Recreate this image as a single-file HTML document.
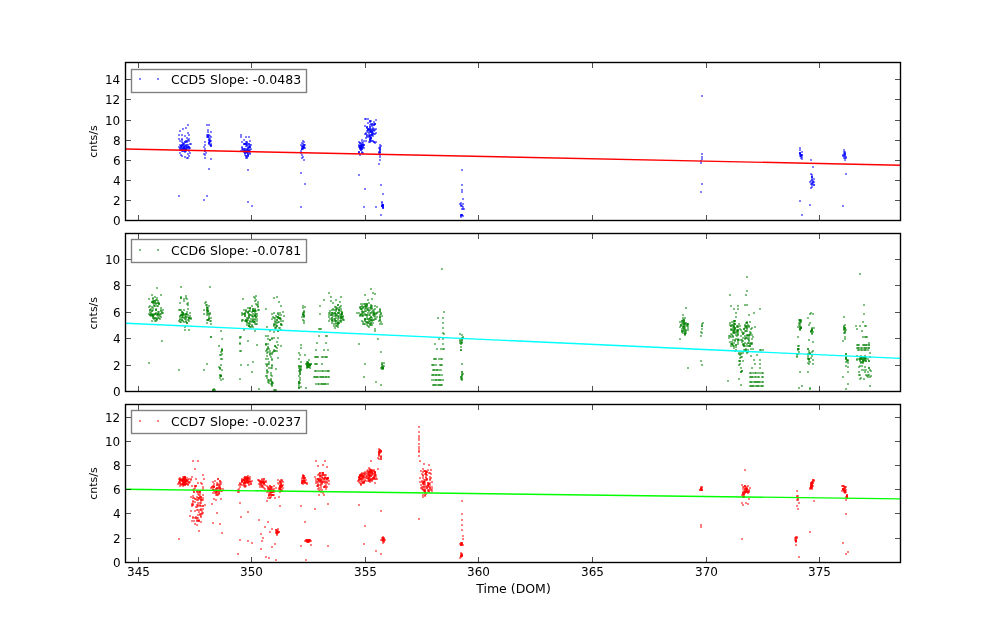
<!DOCTYPE html>
<html lang="en"><head><meta charset="utf-8"><title>CCD count rates</title>
<style>html,body{margin:0;padding:0;background:#fff}svg{display:block;will-change:transform}text{font-family:"DejaVu Sans","Liberation Sans",sans-serif;fill:#000}</style></head><body>
<svg width="1000" height="624" viewBox="0 0 1000 624">
<rect width="1000" height="624" fill="#fff"/>
<g>
<g fill="#0000ff" fill-opacity="0.5" shape-rendering="crispEdges">
<rect x="183" y="147" width="2" height="2"/>
<rect x="181" y="144" width="2" height="2"/>
<rect x="187" y="146" width="2" height="2"/>
<rect x="180" y="148" width="2" height="2"/>
<rect x="179" y="140" width="2" height="2"/>
<rect x="185" y="144" width="2" height="2"/>
<rect x="184" y="148" width="2" height="2"/>
<rect x="185" y="149" width="2" height="2"/>
<rect x="183" y="145" width="2" height="2"/>
<rect x="182" y="142" width="2" height="2"/>
<rect x="181" y="145" width="2" height="2"/>
<rect x="182" y="150" width="2" height="2"/>
<rect x="184" y="141" width="2" height="2"/>
<rect x="180" y="149" width="2" height="2"/>
<rect x="188" y="146" width="2" height="2"/>
<rect x="185" y="141" width="2" height="2"/>
<rect x="181" y="141" width="2" height="2"/>
<rect x="180" y="146" width="2" height="2"/>
<rect x="181" y="139" width="2" height="2"/>
<rect x="181" y="149" width="2" height="2"/>
<rect x="186" y="148" width="2" height="2"/>
<rect x="184" y="148" width="2" height="2"/>
<rect x="185" y="147" width="2" height="2"/>
<rect x="186" y="140" width="2" height="2"/>
<rect x="181" y="150" width="2" height="2"/>
<rect x="185" y="149" width="2" height="2"/>
<rect x="182" y="143" width="2" height="2"/>
<rect x="182" y="149" width="2" height="2"/>
<rect x="179" y="144" width="2" height="2"/>
<rect x="188" y="140" width="2" height="2"/>
<rect x="182" y="148" width="2" height="2"/>
<rect x="185" y="146" width="2" height="2"/>
<rect x="183" y="146" width="2" height="2"/>
<rect x="188" y="148" width="2" height="2"/>
<rect x="182" y="144" width="2" height="2"/>
<rect x="184" y="145" width="2" height="2"/>
<rect x="180" y="146" width="2" height="2"/>
<rect x="182" y="148" width="2" height="2"/>
<rect x="188" y="146" width="2" height="2"/>
<rect x="181" y="144" width="2" height="2"/>
<rect x="186" y="141" width="2" height="2"/>
<rect x="185" y="150" width="2" height="2"/>
<rect x="183" y="146" width="2" height="2"/>
<rect x="187" y="139" width="2" height="2"/>
<rect x="184" y="150" width="2" height="2"/>
<rect x="186" y="147" width="2" height="2"/>
<rect x="189" y="143" width="2" height="2"/>
<rect x="187" y="144" width="2" height="2"/>
<rect x="183" y="147" width="2" height="2"/>
<rect x="185" y="140" width="2" height="2"/>
<rect x="188" y="147" width="2" height="2"/>
<rect x="184" y="141" width="2" height="2"/>
<rect x="182" y="150" width="2" height="2"/>
<rect x="179" y="149" width="2" height="2"/>
<rect x="186" y="146" width="2" height="2"/>
<rect x="188" y="150" width="2" height="2"/>
<rect x="181" y="149" width="2" height="2"/>
<rect x="186" y="144" width="2" height="2"/>
<rect x="179" y="147" width="2" height="2"/>
<rect x="184" y="150" width="2" height="2"/>
<rect x="184" y="151" width="2" height="2"/>
<rect x="180" y="148" width="2" height="2"/>
<rect x="179" y="148" width="2" height="2"/>
<rect x="181" y="146" width="2" height="2"/>
<rect x="183" y="146" width="2" height="2"/>
<rect x="182" y="147" width="2" height="2"/>
<rect x="187" y="146" width="2" height="2"/>
<rect x="184" y="148" width="2" height="2"/>
<rect x="183" y="143" width="2" height="2"/>
<rect x="182" y="148" width="2" height="2"/>
<rect x="180" y="145" width="2" height="2"/>
<rect x="185" y="148" width="2" height="2"/>
<rect x="183" y="148" width="2" height="2"/>
<rect x="183" y="143" width="2" height="2"/>
<rect x="180" y="145" width="2" height="2"/>
<rect x="185" y="145" width="2" height="2"/>
<rect x="187" y="124" width="2" height="2"/>
<rect x="185" y="127" width="2" height="2"/>
<rect x="182" y="128" width="2" height="2"/>
<rect x="179" y="130" width="2" height="2"/>
<rect x="187" y="132" width="2" height="2"/>
<rect x="178" y="134" width="2" height="2"/>
<rect x="181" y="134" width="2" height="2"/>
<rect x="184" y="135" width="2" height="2"/>
<rect x="188" y="134" width="2" height="2"/>
<rect x="178" y="138" width="2" height="2"/>
<rect x="181" y="138" width="2" height="2"/>
<rect x="186" y="137" width="2" height="2"/>
<rect x="188" y="138" width="2" height="2"/>
<rect x="179" y="152" width="2" height="2"/>
<rect x="180" y="154" width="2" height="2"/>
<rect x="181" y="155" width="2" height="2"/>
<rect x="184" y="156" width="2" height="2"/>
<rect x="186" y="157" width="2" height="2"/>
<rect x="187" y="157" width="2" height="2"/>
<rect x="188" y="155" width="2" height="2"/>
<rect x="189" y="152" width="2" height="2"/>
<rect x="187" y="153" width="2" height="2"/>
<rect x="189" y="147" width="2" height="2"/>
<rect x="190" y="143" width="2" height="2"/>
<rect x="178" y="146" width="2" height="2"/>
<rect x="178" y="195" width="2" height="2"/>
<rect x="208" y="142" width="2" height="2"/>
<rect x="208" y="143" width="2" height="2"/>
<rect x="209" y="140" width="2" height="2"/>
<rect x="210" y="145" width="2" height="2"/>
<rect x="210" y="140" width="2" height="2"/>
<rect x="207" y="136" width="2" height="2"/>
<rect x="207" y="135" width="2" height="2"/>
<rect x="209" y="141" width="2" height="2"/>
<rect x="207" y="135" width="2" height="2"/>
<rect x="208" y="134" width="2" height="2"/>
<rect x="208" y="137" width="2" height="2"/>
<rect x="209" y="140" width="2" height="2"/>
<rect x="206" y="136" width="2" height="2"/>
<rect x="208" y="139" width="2" height="2"/>
<rect x="210" y="143" width="2" height="2"/>
<rect x="209" y="140" width="2" height="2"/>
<rect x="208" y="142" width="2" height="2"/>
<rect x="210" y="144" width="2" height="2"/>
<rect x="207" y="136" width="2" height="2"/>
<rect x="209" y="144" width="2" height="2"/>
<rect x="209" y="138" width="2" height="2"/>
<rect x="208" y="139" width="2" height="2"/>
<rect x="208" y="141" width="2" height="2"/>
<rect x="206" y="134" width="2" height="2"/>
<rect x="207" y="134" width="2" height="2"/>
<rect x="210" y="145" width="2" height="2"/>
<rect x="206" y="124" width="2" height="2"/>
<rect x="208" y="124" width="2" height="2"/>
<rect x="207" y="129" width="2" height="2"/>
<rect x="207" y="131" width="2" height="2"/>
<rect x="210" y="131" width="2" height="2"/>
<rect x="209" y="135" width="2" height="2"/>
<rect x="210" y="136" width="2" height="2"/>
<rect x="204" y="141" width="2" height="2"/>
<rect x="204" y="144" width="2" height="2"/>
<rect x="203" y="146" width="2" height="2"/>
<rect x="204" y="148" width="2" height="2"/>
<rect x="204" y="150" width="2" height="2"/>
<rect x="203" y="153" width="2" height="2"/>
<rect x="204" y="154" width="2" height="2"/>
<rect x="204" y="157" width="2" height="2"/>
<rect x="204" y="150" width="2" height="2"/>
<rect x="205" y="152" width="2" height="2"/>
<rect x="210" y="158" width="2" height="2"/>
<rect x="208" y="168" width="2" height="2"/>
<rect x="206" y="195" width="2" height="2"/>
<rect x="203" y="199" width="2" height="2"/>
<rect x="249" y="152" width="2" height="2"/>
<rect x="241" y="147" width="2" height="2"/>
<rect x="244" y="148" width="2" height="2"/>
<rect x="248" y="150" width="2" height="2"/>
<rect x="245" y="145" width="2" height="2"/>
<rect x="245" y="150" width="2" height="2"/>
<rect x="246" y="144" width="2" height="2"/>
<rect x="247" y="147" width="2" height="2"/>
<rect x="240" y="150" width="2" height="2"/>
<rect x="243" y="143" width="2" height="2"/>
<rect x="244" y="143" width="2" height="2"/>
<rect x="248" y="150" width="2" height="2"/>
<rect x="247" y="153" width="2" height="2"/>
<rect x="248" y="145" width="2" height="2"/>
<rect x="245" y="155" width="2" height="2"/>
<rect x="246" y="156" width="2" height="2"/>
<rect x="246" y="157" width="2" height="2"/>
<rect x="248" y="149" width="2" height="2"/>
<rect x="247" y="154" width="2" height="2"/>
<rect x="248" y="151" width="2" height="2"/>
<rect x="244" y="152" width="2" height="2"/>
<rect x="245" y="141" width="2" height="2"/>
<rect x="244" y="152" width="2" height="2"/>
<rect x="246" y="143" width="2" height="2"/>
<rect x="249" y="144" width="2" height="2"/>
<rect x="247" y="153" width="2" height="2"/>
<rect x="246" y="141" width="2" height="2"/>
<rect x="244" y="143" width="2" height="2"/>
<rect x="249" y="153" width="2" height="2"/>
<rect x="241" y="146" width="2" height="2"/>
<rect x="246" y="148" width="2" height="2"/>
<rect x="242" y="148" width="2" height="2"/>
<rect x="246" y="145" width="2" height="2"/>
<rect x="245" y="143" width="2" height="2"/>
<rect x="241" y="149" width="2" height="2"/>
<rect x="246" y="142" width="2" height="2"/>
<rect x="247" y="151" width="2" height="2"/>
<rect x="246" y="149" width="2" height="2"/>
<rect x="243" y="143" width="2" height="2"/>
<rect x="242" y="148" width="2" height="2"/>
<rect x="249" y="146" width="2" height="2"/>
<rect x="250" y="148" width="2" height="2"/>
<rect x="244" y="152" width="2" height="2"/>
<rect x="247" y="155" width="2" height="2"/>
<rect x="248" y="147" width="2" height="2"/>
<rect x="249" y="146" width="2" height="2"/>
<rect x="246" y="149" width="2" height="2"/>
<rect x="243" y="151" width="2" height="2"/>
<rect x="245" y="155" width="2" height="2"/>
<rect x="248" y="146" width="2" height="2"/>
<rect x="247" y="147" width="2" height="2"/>
<rect x="249" y="149" width="2" height="2"/>
<rect x="246" y="151" width="2" height="2"/>
<rect x="245" y="157" width="2" height="2"/>
<rect x="242" y="150" width="2" height="2"/>
<rect x="248" y="143" width="2" height="2"/>
<rect x="249" y="146" width="2" height="2"/>
<rect x="245" y="143" width="2" height="2"/>
<rect x="245" y="151" width="2" height="2"/>
<rect x="247" y="149" width="2" height="2"/>
<rect x="244" y="150" width="2" height="2"/>
<rect x="244" y="154" width="2" height="2"/>
<rect x="247" y="150" width="2" height="2"/>
<rect x="244" y="148" width="2" height="2"/>
<rect x="243" y="149" width="2" height="2"/>
<rect x="246" y="151" width="2" height="2"/>
<rect x="247" y="155" width="2" height="2"/>
<rect x="244" y="150" width="2" height="2"/>
<rect x="244" y="150" width="2" height="2"/>
<rect x="246" y="151" width="2" height="2"/>
<rect x="245" y="151" width="2" height="2"/>
<rect x="246" y="152" width="2" height="2"/>
<rect x="240" y="134" width="2" height="2"/>
<rect x="240" y="136" width="2" height="2"/>
<rect x="245" y="136" width="2" height="2"/>
<rect x="248" y="136" width="2" height="2"/>
<rect x="243" y="139" width="2" height="2"/>
<rect x="249" y="140" width="2" height="2"/>
<rect x="241" y="141" width="2" height="2"/>
<rect x="248" y="143" width="2" height="2"/>
<rect x="250" y="144" width="2" height="2"/>
<rect x="247" y="169" width="2" height="2"/>
<rect x="247" y="201" width="2" height="2"/>
<rect x="251" y="205" width="2" height="2"/>
<rect x="300" y="144" width="2" height="2"/>
<rect x="302" y="143" width="2" height="2"/>
<rect x="301" y="148" width="2" height="2"/>
<rect x="301" y="148" width="2" height="2"/>
<rect x="303" y="147" width="2" height="2"/>
<rect x="303" y="146" width="2" height="2"/>
<rect x="301" y="146" width="2" height="2"/>
<rect x="302" y="145" width="2" height="2"/>
<rect x="302" y="148" width="2" height="2"/>
<rect x="301" y="148" width="2" height="2"/>
<rect x="304" y="144" width="2" height="2"/>
<rect x="302" y="146" width="2" height="2"/>
<rect x="304" y="147" width="2" height="2"/>
<rect x="303" y="144" width="2" height="2"/>
<rect x="302" y="146" width="2" height="2"/>
<rect x="300" y="150" width="2" height="2"/>
<rect x="303" y="141" width="2" height="2"/>
<rect x="303" y="146" width="2" height="2"/>
<rect x="302" y="147" width="2" height="2"/>
<rect x="301" y="145" width="2" height="2"/>
<rect x="303" y="144" width="2" height="2"/>
<rect x="301" y="142" width="2" height="2"/>
<rect x="301" y="154" width="2" height="2"/>
<rect x="302" y="156" width="2" height="2"/>
<rect x="301" y="157" width="2" height="2"/>
<rect x="303" y="159" width="2" height="2"/>
<rect x="300" y="152" width="2" height="2"/>
<rect x="302" y="140" width="2" height="2"/>
<rect x="300" y="172" width="2" height="2"/>
<rect x="304" y="183" width="2" height="2"/>
<rect x="300" y="206" width="2" height="2"/>
<rect x="358" y="146" width="2" height="2"/>
<rect x="363" y="147" width="2" height="2"/>
<rect x="359" y="142" width="2" height="2"/>
<rect x="361" y="147" width="2" height="2"/>
<rect x="358" y="141" width="2" height="2"/>
<rect x="361" y="146" width="2" height="2"/>
<rect x="358" y="144" width="2" height="2"/>
<rect x="359" y="147" width="2" height="2"/>
<rect x="360" y="145" width="2" height="2"/>
<rect x="360" y="149" width="2" height="2"/>
<rect x="363" y="144" width="2" height="2"/>
<rect x="362" y="142" width="2" height="2"/>
<rect x="360" y="148" width="2" height="2"/>
<rect x="363" y="144" width="2" height="2"/>
<rect x="360" y="146" width="2" height="2"/>
<rect x="358" y="145" width="2" height="2"/>
<rect x="359" y="146" width="2" height="2"/>
<rect x="360" y="146" width="2" height="2"/>
<rect x="359" y="148" width="2" height="2"/>
<rect x="360" y="143" width="2" height="2"/>
<rect x="361" y="139" width="2" height="2"/>
<rect x="359" y="145" width="2" height="2"/>
<rect x="362" y="144" width="2" height="2"/>
<rect x="361" y="143" width="2" height="2"/>
<rect x="361" y="151" width="2" height="2"/>
<rect x="359" y="145" width="2" height="2"/>
<rect x="360" y="149" width="2" height="2"/>
<rect x="361" y="148" width="2" height="2"/>
<rect x="361" y="146" width="2" height="2"/>
<rect x="362" y="146" width="2" height="2"/>
<rect x="363" y="140" width="2" height="2"/>
<rect x="362" y="144" width="2" height="2"/>
<rect x="360" y="144" width="2" height="2"/>
<rect x="359" y="142" width="2" height="2"/>
<rect x="359" y="147" width="2" height="2"/>
<rect x="360" y="145" width="2" height="2"/>
<rect x="360" y="148" width="2" height="2"/>
<rect x="361" y="144" width="2" height="2"/>
<rect x="361" y="144" width="2" height="2"/>
<rect x="358" y="151" width="2" height="2"/>
<rect x="361" y="141" width="2" height="2"/>
<rect x="362" y="146" width="2" height="2"/>
<rect x="358" y="151" width="2" height="2"/>
<rect x="361" y="148" width="2" height="2"/>
<rect x="358" y="152" width="2" height="2"/>
<rect x="359" y="154" width="2" height="2"/>
<rect x="361" y="152" width="2" height="2"/>
<rect x="362" y="152" width="2" height="2"/>
<rect x="370" y="131" width="2" height="2"/>
<rect x="365" y="137" width="2" height="2"/>
<rect x="370" y="130" width="2" height="2"/>
<rect x="371" y="132" width="2" height="2"/>
<rect x="372" y="129" width="2" height="2"/>
<rect x="369" y="120" width="2" height="2"/>
<rect x="368" y="135" width="2" height="2"/>
<rect x="374" y="129" width="2" height="2"/>
<rect x="369" y="140" width="2" height="2"/>
<rect x="369" y="136" width="2" height="2"/>
<rect x="375" y="132" width="2" height="2"/>
<rect x="373" y="128" width="2" height="2"/>
<rect x="370" y="131" width="2" height="2"/>
<rect x="370" y="138" width="2" height="2"/>
<rect x="368" y="134" width="2" height="2"/>
<rect x="366" y="134" width="2" height="2"/>
<rect x="371" y="130" width="2" height="2"/>
<rect x="371" y="123" width="2" height="2"/>
<rect x="372" y="123" width="2" height="2"/>
<rect x="367" y="128" width="2" height="2"/>
<rect x="368" y="136" width="2" height="2"/>
<rect x="370" y="129" width="2" height="2"/>
<rect x="371" y="140" width="2" height="2"/>
<rect x="370" y="134" width="2" height="2"/>
<rect x="373" y="133" width="2" height="2"/>
<rect x="369" y="134" width="2" height="2"/>
<rect x="372" y="135" width="2" height="2"/>
<rect x="369" y="126" width="2" height="2"/>
<rect x="370" y="137" width="2" height="2"/>
<rect x="366" y="126" width="2" height="2"/>
<rect x="369" y="121" width="2" height="2"/>
<rect x="369" y="129" width="2" height="2"/>
<rect x="371" y="128" width="2" height="2"/>
<rect x="367" y="129" width="2" height="2"/>
<rect x="369" y="128" width="2" height="2"/>
<rect x="370" y="136" width="2" height="2"/>
<rect x="373" y="141" width="2" height="2"/>
<rect x="367" y="129" width="2" height="2"/>
<rect x="367" y="131" width="2" height="2"/>
<rect x="371" y="124" width="2" height="2"/>
<rect x="371" y="131" width="2" height="2"/>
<rect x="364" y="133" width="2" height="2"/>
<rect x="373" y="121" width="2" height="2"/>
<rect x="372" y="133" width="2" height="2"/>
<rect x="371" y="134" width="2" height="2"/>
<rect x="373" y="130" width="2" height="2"/>
<rect x="372" y="129" width="2" height="2"/>
<rect x="372" y="127" width="2" height="2"/>
<rect x="369" y="141" width="2" height="2"/>
<rect x="371" y="131" width="2" height="2"/>
<rect x="366" y="127" width="2" height="2"/>
<rect x="370" y="137" width="2" height="2"/>
<rect x="371" y="134" width="2" height="2"/>
<rect x="369" y="139" width="2" height="2"/>
<rect x="368" y="128" width="2" height="2"/>
<rect x="372" y="132" width="2" height="2"/>
<rect x="369" y="128" width="2" height="2"/>
<rect x="369" y="135" width="2" height="2"/>
<rect x="371" y="125" width="2" height="2"/>
<rect x="371" y="133" width="2" height="2"/>
<rect x="366" y="136" width="2" height="2"/>
<rect x="369" y="130" width="2" height="2"/>
<rect x="366" y="135" width="2" height="2"/>
<rect x="369" y="126" width="2" height="2"/>
<rect x="368" y="141" width="2" height="2"/>
<rect x="368" y="132" width="2" height="2"/>
<rect x="368" y="129" width="2" height="2"/>
<rect x="374" y="142" width="2" height="2"/>
<rect x="369" y="124" width="2" height="2"/>
<rect x="373" y="124" width="2" height="2"/>
<rect x="365" y="140" width="2" height="2"/>
<rect x="369" y="138" width="2" height="2"/>
<rect x="369" y="139" width="2" height="2"/>
<rect x="370" y="123" width="2" height="2"/>
<rect x="365" y="132" width="2" height="2"/>
<rect x="372" y="140" width="2" height="2"/>
<rect x="365" y="133" width="2" height="2"/>
<rect x="369" y="131" width="2" height="2"/>
<rect x="366" y="126" width="2" height="2"/>
<rect x="370" y="140" width="2" height="2"/>
<rect x="366" y="130" width="2" height="2"/>
<rect x="373" y="141" width="2" height="2"/>
<rect x="367" y="122" width="2" height="2"/>
<rect x="375" y="141" width="2" height="2"/>
<rect x="370" y="120" width="2" height="2"/>
<rect x="375" y="128" width="2" height="2"/>
<rect x="374" y="133" width="2" height="2"/>
<rect x="374" y="123" width="2" height="2"/>
<rect x="373" y="124" width="2" height="2"/>
<rect x="369" y="138" width="2" height="2"/>
<rect x="374" y="123" width="2" height="2"/>
<rect x="367" y="128" width="2" height="2"/>
<rect x="364" y="118" width="2" height="2"/>
<rect x="365" y="118" width="2" height="2"/>
<rect x="367" y="118" width="2" height="2"/>
<rect x="375" y="119" width="2" height="2"/>
<rect x="369" y="120" width="2" height="2"/>
<rect x="364" y="125" width="2" height="2"/>
<rect x="374" y="123" width="2" height="2"/>
<rect x="379" y="149" width="2" height="2"/>
<rect x="378" y="147" width="2" height="2"/>
<rect x="379" y="156" width="2" height="2"/>
<rect x="378" y="151" width="2" height="2"/>
<rect x="379" y="144" width="2" height="2"/>
<rect x="380" y="145" width="2" height="2"/>
<rect x="379" y="151" width="2" height="2"/>
<rect x="379" y="148" width="2" height="2"/>
<rect x="379" y="151" width="2" height="2"/>
<rect x="379" y="152" width="2" height="2"/>
<rect x="379" y="149" width="2" height="2"/>
<rect x="378" y="152" width="2" height="2"/>
<rect x="379" y="147" width="2" height="2"/>
<rect x="379" y="154" width="2" height="2"/>
<rect x="379" y="146" width="2" height="2"/>
<rect x="378" y="163" width="2" height="2"/>
<rect x="379" y="159" width="2" height="2"/>
<rect x="358" y="174" width="2" height="2"/>
<rect x="364" y="188" width="2" height="2"/>
<rect x="363" y="206" width="2" height="2"/>
<rect x="375" y="206" width="2" height="2"/>
<rect x="380" y="184" width="2" height="2"/>
<rect x="382" y="193" width="2" height="2"/>
<rect x="380" y="214" width="2" height="2"/>
<rect x="381" y="205" width="2" height="2"/>
<rect x="382" y="207" width="2" height="2"/>
<rect x="382" y="206" width="2" height="2"/>
<rect x="381" y="205" width="2" height="2"/>
<rect x="381" y="204" width="2" height="2"/>
<rect x="381" y="202" width="2" height="2"/>
<rect x="381" y="205" width="2" height="2"/>
<rect x="381" y="205" width="2" height="2"/>
<rect x="382" y="205" width="2" height="2"/>
<rect x="381" y="201" width="2" height="2"/>
<rect x="382" y="204" width="2" height="2"/>
<rect x="382" y="206" width="2" height="2"/>
<rect x="382" y="204" width="2" height="2"/>
<rect x="382" y="204" width="2" height="2"/>
<rect x="382" y="204" width="2" height="2"/>
<rect x="382" y="207" width="2" height="2"/>
<rect x="461" y="169" width="2" height="2"/>
<rect x="461" y="184" width="2" height="2"/>
<rect x="461" y="189" width="2" height="2"/>
<rect x="461" y="191" width="2" height="2"/>
<rect x="462" y="198" width="2" height="2"/>
<rect x="460" y="205" width="2" height="2"/>
<rect x="461" y="205" width="2" height="2"/>
<rect x="462" y="208" width="2" height="2"/>
<rect x="460" y="202" width="2" height="2"/>
<rect x="461" y="208" width="2" height="2"/>
<rect x="462" y="206" width="2" height="2"/>
<rect x="460" y="204" width="2" height="2"/>
<rect x="462" y="203" width="2" height="2"/>
<rect x="459" y="203" width="2" height="2"/>
<rect x="463" y="208" width="2" height="2"/>
<rect x="460" y="214" width="2" height="2"/>
<rect x="461" y="214" width="2" height="2"/>
<rect x="462" y="215" width="2" height="2"/>
<rect x="460" y="216" width="2" height="2"/>
<rect x="460" y="215" width="2" height="2"/>
<rect x="461" y="214" width="2" height="2"/>
<rect x="461" y="214" width="2" height="2"/>
<rect x="460" y="214" width="2" height="2"/>
<rect x="701" y="95" width="2" height="2"/>
<rect x="701" y="153" width="2" height="2"/>
<rect x="701" y="156" width="2" height="2"/>
<rect x="701" y="158" width="2" height="2"/>
<rect x="700" y="160" width="2" height="2"/>
<rect x="700" y="162" width="2" height="2"/>
<rect x="701" y="183" width="2" height="2"/>
<rect x="700" y="191" width="2" height="2"/>
<rect x="800" y="154" width="2" height="2"/>
<rect x="800" y="154" width="2" height="2"/>
<rect x="799" y="152" width="2" height="2"/>
<rect x="800" y="155" width="2" height="2"/>
<rect x="800" y="154" width="2" height="2"/>
<rect x="801" y="154" width="2" height="2"/>
<rect x="800" y="155" width="2" height="2"/>
<rect x="800" y="157" width="2" height="2"/>
<rect x="799" y="153" width="2" height="2"/>
<rect x="799" y="152" width="2" height="2"/>
<rect x="801" y="158" width="2" height="2"/>
<rect x="800" y="155" width="2" height="2"/>
<rect x="801" y="156" width="2" height="2"/>
<rect x="801" y="151" width="2" height="2"/>
<rect x="799" y="155" width="2" height="2"/>
<rect x="801" y="154" width="2" height="2"/>
<rect x="799" y="153" width="2" height="2"/>
<rect x="799" y="152" width="2" height="2"/>
<rect x="799" y="147" width="2" height="2"/>
<rect x="799" y="149" width="2" height="2"/>
<rect x="799" y="200" width="2" height="2"/>
<rect x="801" y="214" width="2" height="2"/>
<rect x="810" y="159" width="2" height="2"/>
<rect x="812" y="166" width="2" height="2"/>
<rect x="813" y="178" width="2" height="2"/>
<rect x="812" y="182" width="2" height="2"/>
<rect x="810" y="183" width="2" height="2"/>
<rect x="813" y="184" width="2" height="2"/>
<rect x="812" y="181" width="2" height="2"/>
<rect x="812" y="180" width="2" height="2"/>
<rect x="811" y="186" width="2" height="2"/>
<rect x="809" y="181" width="2" height="2"/>
<rect x="811" y="179" width="2" height="2"/>
<rect x="811" y="184" width="2" height="2"/>
<rect x="813" y="184" width="2" height="2"/>
<rect x="811" y="174" width="2" height="2"/>
<rect x="813" y="181" width="2" height="2"/>
<rect x="811" y="176" width="2" height="2"/>
<rect x="811" y="176" width="2" height="2"/>
<rect x="811" y="183" width="2" height="2"/>
<rect x="811" y="182" width="2" height="2"/>
<rect x="810" y="187" width="2" height="2"/>
<rect x="810" y="173" width="2" height="2"/>
<rect x="811" y="178" width="2" height="2"/>
<rect x="810" y="180" width="2" height="2"/>
<rect x="811" y="176" width="2" height="2"/>
<rect x="809" y="204" width="2" height="2"/>
<rect x="843" y="157" width="2" height="2"/>
<rect x="844" y="153" width="2" height="2"/>
<rect x="844" y="153" width="2" height="2"/>
<rect x="844" y="155" width="2" height="2"/>
<rect x="844" y="151" width="2" height="2"/>
<rect x="844" y="152" width="2" height="2"/>
<rect x="844" y="159" width="2" height="2"/>
<rect x="843" y="151" width="2" height="2"/>
<rect x="842" y="154" width="2" height="2"/>
<rect x="843" y="149" width="2" height="2"/>
<rect x="842" y="155" width="2" height="2"/>
<rect x="843" y="153" width="2" height="2"/>
<rect x="844" y="157" width="2" height="2"/>
<rect x="845" y="156" width="2" height="2"/>
<rect x="844" y="154" width="2" height="2"/>
<rect x="845" y="157" width="2" height="2"/>
<rect x="843" y="155" width="2" height="2"/>
<rect x="845" y="173" width="2" height="2"/>
<rect x="842" y="205" width="2" height="2"/>
</g>
<line x1="125.5" y1="149.0" x2="900.5" y2="165.2" stroke="#ff0000" stroke-width="1.4"/>
<path d="M138.5 220.5v-5.5M138.5 62.5v5.5M251.5 220.5v-5.5M251.5 62.5v5.5M365.5 220.5v-5.5M365.5 62.5v5.5M478.5 220.5v-5.5M478.5 62.5v5.5M592.5 220.5v-5.5M592.5 62.5v5.5M706.5 220.5v-5.5M706.5 62.5v5.5M819.5 220.5v-5.5M819.5 62.5v5.5M125.5 220.5h5.5M900.5 220.5h-5.5M125.5 200.5h5.5M900.5 200.5h-5.5M125.5 180.5h5.5M900.5 180.5h-5.5M125.5 160.5h5.5M900.5 160.5h-5.5M125.5 140.5h5.5M900.5 140.5h-5.5M125.5 120.5h5.5M900.5 120.5h-5.5M125.5 99.5h5.5M900.5 99.5h-5.5M125.5 79.5h5.5M900.5 79.5h-5.5" stroke="#000" stroke-width="0.69" fill="none"/>
<rect x="125.5" y="62.5" width="775.0" height="158.0" fill="none" stroke="#000" stroke-width="1.39"/>
<text x="120.7" y="224.7" font-size="12" text-anchor="end">0</text>
<text x="120.7" y="204.7" font-size="12" text-anchor="end">2</text>
<text x="120.7" y="184.7" font-size="12" text-anchor="end">4</text>
<text x="120.7" y="164.7" font-size="12" text-anchor="end">6</text>
<text x="120.7" y="144.7" font-size="12" text-anchor="end">8</text>
<text x="120.2" y="124.7" font-size="12" text-anchor="end">10</text>
<text x="120.2" y="103.7" font-size="12" text-anchor="end">12</text>
<text x="120.2" y="83.7" font-size="12" text-anchor="end">14</text>
<text transform="translate(97.3,141.5) rotate(-90)" font-size="11" text-anchor="middle">cnts/s</text>
<rect x="131.5" y="69.5" width="175.0" height="23.0" fill="#fff" stroke="#808080" stroke-width="1.39"/>
<g fill="#0000ff" fill-opacity="0.5"><rect x="139.0" y="78.0" width="2" height="2"/><rect x="157.0" y="78.0" width="2" height="2"/></g>
<text x="171.0" y="83.8" font-size="12.5">CCD5 Slope: -0.0483</text>
</g>
<g>
<g fill="#008000" fill-opacity="0.5" shape-rendering="crispEdges">
<rect x="155" y="308" width="2" height="2"/>
<rect x="154" y="300" width="2" height="2"/>
<rect x="152" y="315" width="2" height="2"/>
<rect x="162" y="312" width="2" height="2"/>
<rect x="157" y="313" width="2" height="2"/>
<rect x="156" y="299" width="2" height="2"/>
<rect x="153" y="305" width="2" height="2"/>
<rect x="154" y="305" width="2" height="2"/>
<rect x="157" y="311" width="2" height="2"/>
<rect x="153" y="314" width="2" height="2"/>
<rect x="158" y="302" width="2" height="2"/>
<rect x="149" y="314" width="2" height="2"/>
<rect x="152" y="307" width="2" height="2"/>
<rect x="156" y="305" width="2" height="2"/>
<rect x="156" y="297" width="2" height="2"/>
<rect x="149" y="311" width="2" height="2"/>
<rect x="151" y="320" width="2" height="2"/>
<rect x="154" y="313" width="2" height="2"/>
<rect x="160" y="316" width="2" height="2"/>
<rect x="152" y="298" width="2" height="2"/>
<rect x="152" y="313" width="2" height="2"/>
<rect x="155" y="309" width="2" height="2"/>
<rect x="157" y="305" width="2" height="2"/>
<rect x="153" y="317" width="2" height="2"/>
<rect x="154" y="300" width="2" height="2"/>
<rect x="157" y="317" width="2" height="2"/>
<rect x="157" y="315" width="2" height="2"/>
<rect x="158" y="314" width="2" height="2"/>
<rect x="155" y="313" width="2" height="2"/>
<rect x="156" y="314" width="2" height="2"/>
<rect x="152" y="309" width="2" height="2"/>
<rect x="162" y="309" width="2" height="2"/>
<rect x="159" y="313" width="2" height="2"/>
<rect x="155" y="302" width="2" height="2"/>
<rect x="157" y="313" width="2" height="2"/>
<rect x="150" y="314" width="2" height="2"/>
<rect x="153" y="304" width="2" height="2"/>
<rect x="151" y="314" width="2" height="2"/>
<rect x="149" y="305" width="2" height="2"/>
<rect x="154" y="296" width="2" height="2"/>
<rect x="157" y="300" width="2" height="2"/>
<rect x="153" y="318" width="2" height="2"/>
<rect x="155" y="299" width="2" height="2"/>
<rect x="150" y="312" width="2" height="2"/>
<rect x="152" y="300" width="2" height="2"/>
<rect x="152" y="302" width="2" height="2"/>
<rect x="160" y="313" width="2" height="2"/>
<rect x="160" y="307" width="2" height="2"/>
<rect x="148" y="306" width="2" height="2"/>
<rect x="155" y="303" width="2" height="2"/>
<rect x="154" y="320" width="2" height="2"/>
<rect x="159" y="318" width="2" height="2"/>
<rect x="155" y="317" width="2" height="2"/>
<rect x="149" y="314" width="2" height="2"/>
<rect x="156" y="319" width="2" height="2"/>
<rect x="155" y="320" width="2" height="2"/>
<rect x="159" y="315" width="2" height="2"/>
<rect x="150" y="313" width="2" height="2"/>
<rect x="152" y="315" width="2" height="2"/>
<rect x="151" y="310" width="2" height="2"/>
<rect x="157" y="302" width="2" height="2"/>
<rect x="152" y="314" width="2" height="2"/>
<rect x="160" y="310" width="2" height="2"/>
<rect x="152" y="317" width="2" height="2"/>
<rect x="154" y="302" width="2" height="2"/>
<rect x="161" y="312" width="2" height="2"/>
<rect x="158" y="317" width="2" height="2"/>
<rect x="160" y="309" width="2" height="2"/>
<rect x="157" y="313" width="2" height="2"/>
<rect x="155" y="312" width="2" height="2"/>
<rect x="156" y="318" width="2" height="2"/>
<rect x="152" y="297" width="2" height="2"/>
<rect x="155" y="318" width="2" height="2"/>
<rect x="148" y="313" width="2" height="2"/>
<rect x="154" y="313" width="2" height="2"/>
<rect x="151" y="310" width="2" height="2"/>
<rect x="151" y="306" width="2" height="2"/>
<rect x="149" y="309" width="2" height="2"/>
<rect x="152" y="314" width="2" height="2"/>
<rect x="153" y="302" width="2" height="2"/>
<rect x="151" y="301" width="2" height="2"/>
<rect x="150" y="308" width="2" height="2"/>
<rect x="152" y="301" width="2" height="2"/>
<rect x="150" y="315" width="2" height="2"/>
<rect x="154" y="317" width="2" height="2"/>
<rect x="157" y="302" width="2" height="2"/>
<rect x="149" y="309" width="2" height="2"/>
<rect x="151" y="301" width="2" height="2"/>
<rect x="152" y="316" width="2" height="2"/>
<rect x="161" y="311" width="2" height="2"/>
<rect x="158" y="311" width="2" height="2"/>
<rect x="158" y="303" width="2" height="2"/>
<rect x="158" y="303" width="2" height="2"/>
<rect x="153" y="300" width="2" height="2"/>
<rect x="152" y="301" width="2" height="2"/>
<rect x="155" y="309" width="2" height="2"/>
<rect x="156" y="287" width="2" height="2"/>
<rect x="151" y="294" width="2" height="2"/>
<rect x="160" y="294" width="2" height="2"/>
<rect x="148" y="298" width="2" height="2"/>
<rect x="161" y="340" width="2" height="2"/>
<rect x="148" y="362" width="2" height="2"/>
<rect x="182" y="312" width="2" height="2"/>
<rect x="181" y="316" width="2" height="2"/>
<rect x="181" y="319" width="2" height="2"/>
<rect x="188" y="318" width="2" height="2"/>
<rect x="186" y="311" width="2" height="2"/>
<rect x="185" y="316" width="2" height="2"/>
<rect x="187" y="316" width="2" height="2"/>
<rect x="182" y="314" width="2" height="2"/>
<rect x="190" y="318" width="2" height="2"/>
<rect x="188" y="320" width="2" height="2"/>
<rect x="183" y="313" width="2" height="2"/>
<rect x="188" y="317" width="2" height="2"/>
<rect x="182" y="313" width="2" height="2"/>
<rect x="178" y="320" width="2" height="2"/>
<rect x="185" y="316" width="2" height="2"/>
<rect x="184" y="316" width="2" height="2"/>
<rect x="186" y="322" width="2" height="2"/>
<rect x="179" y="321" width="2" height="2"/>
<rect x="186" y="322" width="2" height="2"/>
<rect x="180" y="314" width="2" height="2"/>
<rect x="187" y="314" width="2" height="2"/>
<rect x="188" y="317" width="2" height="2"/>
<rect x="183" y="321" width="2" height="2"/>
<rect x="179" y="315" width="2" height="2"/>
<rect x="179" y="319" width="2" height="2"/>
<rect x="185" y="313" width="2" height="2"/>
<rect x="181" y="317" width="2" height="2"/>
<rect x="189" y="317" width="2" height="2"/>
<rect x="182" y="314" width="2" height="2"/>
<rect x="181" y="311" width="2" height="2"/>
<rect x="179" y="316" width="2" height="2"/>
<rect x="185" y="314" width="2" height="2"/>
<rect x="181" y="319" width="2" height="2"/>
<rect x="186" y="313" width="2" height="2"/>
<rect x="182" y="312" width="2" height="2"/>
<rect x="185" y="313" width="2" height="2"/>
<rect x="185" y="321" width="2" height="2"/>
<rect x="180" y="321" width="2" height="2"/>
<rect x="185" y="318" width="2" height="2"/>
<rect x="187" y="319" width="2" height="2"/>
<rect x="181" y="314" width="2" height="2"/>
<rect x="190" y="317" width="2" height="2"/>
<rect x="181" y="314" width="2" height="2"/>
<rect x="189" y="312" width="2" height="2"/>
<rect x="184" y="318" width="2" height="2"/>
<rect x="183" y="317" width="2" height="2"/>
<rect x="179" y="318" width="2" height="2"/>
<rect x="182" y="316" width="2" height="2"/>
<rect x="182" y="320" width="2" height="2"/>
<rect x="181" y="313" width="2" height="2"/>
<rect x="189" y="315" width="2" height="2"/>
<rect x="185" y="320" width="2" height="2"/>
<rect x="184" y="314" width="2" height="2"/>
<rect x="181" y="311" width="2" height="2"/>
<rect x="183" y="309" width="2" height="2"/>
<rect x="180" y="314" width="2" height="2"/>
<rect x="180" y="297" width="2" height="2"/>
<rect x="183" y="298" width="2" height="2"/>
<rect x="180" y="297" width="2" height="2"/>
<rect x="185" y="295" width="2" height="2"/>
<rect x="186" y="298" width="2" height="2"/>
<rect x="178" y="309" width="2" height="2"/>
<rect x="180" y="309" width="2" height="2"/>
<rect x="187" y="308" width="2" height="2"/>
<rect x="179" y="302" width="2" height="2"/>
<rect x="179" y="309" width="2" height="2"/>
<rect x="187" y="304" width="2" height="2"/>
<rect x="183" y="300" width="2" height="2"/>
<rect x="187" y="302" width="2" height="2"/>
<rect x="185" y="297" width="2" height="2"/>
<rect x="180" y="296" width="2" height="2"/>
<rect x="186" y="303" width="2" height="2"/>
<rect x="180" y="286" width="2" height="2"/>
<rect x="184" y="329" width="2" height="2"/>
<rect x="188" y="329" width="2" height="2"/>
<rect x="184" y="326" width="2" height="2"/>
<rect x="178" y="369" width="2" height="2"/>
<rect x="206" y="304" width="2" height="2"/>
<rect x="207" y="310" width="2" height="2"/>
<rect x="208" y="318" width="2" height="2"/>
<rect x="206" y="314" width="2" height="2"/>
<rect x="205" y="304" width="2" height="2"/>
<rect x="208" y="317" width="2" height="2"/>
<rect x="206" y="312" width="2" height="2"/>
<rect x="203" y="309" width="2" height="2"/>
<rect x="210" y="320" width="2" height="2"/>
<rect x="206" y="307" width="2" height="2"/>
<rect x="207" y="319" width="2" height="2"/>
<rect x="205" y="301" width="2" height="2"/>
<rect x="208" y="305" width="2" height="2"/>
<rect x="207" y="313" width="2" height="2"/>
<rect x="209" y="320" width="2" height="2"/>
<rect x="206" y="307" width="2" height="2"/>
<rect x="208" y="315" width="2" height="2"/>
<rect x="204" y="302" width="2" height="2"/>
<rect x="206" y="309" width="2" height="2"/>
<rect x="208" y="313" width="2" height="2"/>
<rect x="207" y="307" width="2" height="2"/>
<rect x="206" y="309" width="2" height="2"/>
<rect x="207" y="319" width="2" height="2"/>
<rect x="208" y="318" width="2" height="2"/>
<rect x="206" y="319" width="2" height="2"/>
<rect x="207" y="309" width="2" height="2"/>
<rect x="207" y="310" width="2" height="2"/>
<rect x="209" y="313" width="2" height="2"/>
<rect x="206" y="310" width="2" height="2"/>
<rect x="209" y="312" width="2" height="2"/>
<rect x="206" y="306" width="2" height="2"/>
<rect x="210" y="317" width="2" height="2"/>
<rect x="207" y="319" width="2" height="2"/>
<rect x="207" y="311" width="2" height="2"/>
<rect x="209" y="286" width="2" height="2"/>
<rect x="210" y="323" width="2" height="2"/>
<rect x="210" y="336" width="2" height="2"/>
<rect x="206" y="363" width="2" height="2"/>
<rect x="203" y="369" width="2" height="2"/>
<rect x="203" y="313" width="2" height="2"/>
<rect x="206" y="322" width="2" height="2"/>
<rect x="220" y="330" width="2" height="2"/>
<rect x="221" y="338" width="2" height="2"/>
<rect x="218" y="345" width="2" height="2"/>
<rect x="220" y="379" width="2" height="2"/>
<rect x="222" y="378" width="2" height="2"/>
<rect x="210" y="336" width="2" height="2"/>
<rect x="220" y="358" width="2" height="2"/>
<rect x="220" y="351" width="2" height="2"/>
<rect x="221" y="349" width="2" height="2"/>
<rect x="221" y="350" width="2" height="2"/>
<rect x="219" y="354" width="2" height="2"/>
<rect x="221" y="348" width="2" height="2"/>
<rect x="221" y="349" width="2" height="2"/>
<rect x="220" y="354" width="2" height="2"/>
<rect x="221" y="353" width="2" height="2"/>
<rect x="221" y="358" width="2" height="2"/>
<rect x="220" y="375" width="2" height="2"/>
<rect x="219" y="377" width="2" height="2"/>
<rect x="219" y="374" width="2" height="2"/>
<rect x="220" y="375" width="2" height="2"/>
<rect x="219" y="367" width="2" height="2"/>
<rect x="220" y="375" width="2" height="2"/>
<rect x="220" y="374" width="2" height="2"/>
<rect x="221" y="369" width="2" height="2"/>
<rect x="218" y="366" width="2" height="2"/>
<rect x="219" y="367" width="2" height="2"/>
<rect x="219" y="368" width="2" height="2"/>
<rect x="220" y="364" width="2" height="2"/>
<rect x="219" y="375" width="2" height="2"/>
<rect x="212" y="389" width="2" height="2"/>
<rect x="213" y="389" width="2" height="2"/>
<rect x="214" y="389" width="2" height="2"/>
<rect x="212" y="389" width="2" height="2"/>
<rect x="213" y="388" width="2" height="2"/>
<rect x="257" y="309" width="2" height="2"/>
<rect x="248" y="325" width="2" height="2"/>
<rect x="255" y="313" width="2" height="2"/>
<rect x="241" y="320" width="2" height="2"/>
<rect x="245" y="311" width="2" height="2"/>
<rect x="244" y="315" width="2" height="2"/>
<rect x="252" y="319" width="2" height="2"/>
<rect x="245" y="319" width="2" height="2"/>
<rect x="241" y="312" width="2" height="2"/>
<rect x="247" y="311" width="2" height="2"/>
<rect x="242" y="313" width="2" height="2"/>
<rect x="249" y="320" width="2" height="2"/>
<rect x="247" y="317" width="2" height="2"/>
<rect x="249" y="323" width="2" height="2"/>
<rect x="254" y="314" width="2" height="2"/>
<rect x="256" y="320" width="2" height="2"/>
<rect x="245" y="320" width="2" height="2"/>
<rect x="251" y="325" width="2" height="2"/>
<rect x="246" y="320" width="2" height="2"/>
<rect x="252" y="308" width="2" height="2"/>
<rect x="247" y="307" width="2" height="2"/>
<rect x="249" y="307" width="2" height="2"/>
<rect x="256" y="315" width="2" height="2"/>
<rect x="254" y="315" width="2" height="2"/>
<rect x="253" y="310" width="2" height="2"/>
<rect x="242" y="319" width="2" height="2"/>
<rect x="244" y="315" width="2" height="2"/>
<rect x="252" y="310" width="2" height="2"/>
<rect x="247" y="319" width="2" height="2"/>
<rect x="255" y="323" width="2" height="2"/>
<rect x="254" y="308" width="2" height="2"/>
<rect x="251" y="315" width="2" height="2"/>
<rect x="241" y="314" width="2" height="2"/>
<rect x="254" y="315" width="2" height="2"/>
<rect x="245" y="319" width="2" height="2"/>
<rect x="256" y="313" width="2" height="2"/>
<rect x="244" y="320" width="2" height="2"/>
<rect x="254" y="309" width="2" height="2"/>
<rect x="243" y="309" width="2" height="2"/>
<rect x="250" y="314" width="2" height="2"/>
<rect x="254" y="310" width="2" height="2"/>
<rect x="249" y="307" width="2" height="2"/>
<rect x="246" y="319" width="2" height="2"/>
<rect x="246" y="317" width="2" height="2"/>
<rect x="247" y="312" width="2" height="2"/>
<rect x="255" y="316" width="2" height="2"/>
<rect x="248" y="317" width="2" height="2"/>
<rect x="244" y="312" width="2" height="2"/>
<rect x="244" y="313" width="2" height="2"/>
<rect x="255" y="316" width="2" height="2"/>
<rect x="254" y="323" width="2" height="2"/>
<rect x="253" y="321" width="2" height="2"/>
<rect x="252" y="313" width="2" height="2"/>
<rect x="246" y="324" width="2" height="2"/>
<rect x="250" y="318" width="2" height="2"/>
<rect x="246" y="321" width="2" height="2"/>
<rect x="255" y="310" width="2" height="2"/>
<rect x="248" y="313" width="2" height="2"/>
<rect x="254" y="310" width="2" height="2"/>
<rect x="248" y="323" width="2" height="2"/>
<rect x="252" y="315" width="2" height="2"/>
<rect x="251" y="320" width="2" height="2"/>
<rect x="251" y="311" width="2" height="2"/>
<rect x="252" y="326" width="2" height="2"/>
<rect x="253" y="321" width="2" height="2"/>
<rect x="252" y="316" width="2" height="2"/>
<rect x="249" y="321" width="2" height="2"/>
<rect x="256" y="318" width="2" height="2"/>
<rect x="248" y="314" width="2" height="2"/>
<rect x="254" y="319" width="2" height="2"/>
<rect x="252" y="320" width="2" height="2"/>
<rect x="254" y="314" width="2" height="2"/>
<rect x="251" y="324" width="2" height="2"/>
<rect x="248" y="325" width="2" height="2"/>
<rect x="250" y="326" width="2" height="2"/>
<rect x="253" y="321" width="2" height="2"/>
<rect x="249" y="308" width="2" height="2"/>
<rect x="248" y="322" width="2" height="2"/>
<rect x="252" y="310" width="2" height="2"/>
<rect x="244" y="313" width="2" height="2"/>
<rect x="254" y="318" width="2" height="2"/>
<rect x="247" y="311" width="2" height="2"/>
<rect x="251" y="305" width="2" height="2"/>
<rect x="248" y="316" width="2" height="2"/>
<rect x="245" y="320" width="2" height="2"/>
<rect x="249" y="326" width="2" height="2"/>
<rect x="252" y="318" width="2" height="2"/>
<rect x="249" y="314" width="2" height="2"/>
<rect x="251" y="321" width="2" height="2"/>
<rect x="248" y="325" width="2" height="2"/>
<rect x="243" y="313" width="2" height="2"/>
<rect x="249" y="310" width="2" height="2"/>
<rect x="252" y="310" width="2" height="2"/>
<rect x="248" y="315" width="2" height="2"/>
<rect x="252" y="310" width="2" height="2"/>
<rect x="254" y="321" width="2" height="2"/>
<rect x="254" y="312" width="2" height="2"/>
<rect x="241" y="319" width="2" height="2"/>
<rect x="252" y="308" width="2" height="2"/>
<rect x="245" y="309" width="2" height="2"/>
<rect x="256" y="323" width="2" height="2"/>
<rect x="248" y="310" width="2" height="2"/>
<rect x="245" y="310" width="2" height="2"/>
<rect x="246" y="322" width="2" height="2"/>
<rect x="257" y="305" width="2" height="2"/>
<rect x="257" y="306" width="2" height="2"/>
<rect x="257" y="301" width="2" height="2"/>
<rect x="257" y="303" width="2" height="2"/>
<rect x="254" y="300" width="2" height="2"/>
<rect x="255" y="299" width="2" height="2"/>
<rect x="253" y="296" width="2" height="2"/>
<rect x="255" y="295" width="2" height="2"/>
<rect x="256" y="304" width="2" height="2"/>
<rect x="258" y="309" width="2" height="2"/>
<rect x="254" y="297" width="2" height="2"/>
<rect x="255" y="303" width="2" height="2"/>
<rect x="239" y="336" width="2" height="2"/>
<rect x="239" y="350" width="2" height="2"/>
<rect x="240" y="336" width="2" height="2"/>
<rect x="240" y="350" width="2" height="2"/>
<rect x="239" y="337" width="2" height="2"/>
<rect x="239" y="342" width="2" height="2"/>
<rect x="239" y="343" width="2" height="2"/>
<rect x="240" y="364" width="2" height="2"/>
<rect x="247" y="340" width="2" height="2"/>
<rect x="256" y="344" width="2" height="2"/>
<rect x="252" y="361" width="2" height="2"/>
<rect x="247" y="364" width="2" height="2"/>
<rect x="251" y="371" width="2" height="2"/>
<rect x="239" y="378" width="2" height="2"/>
<rect x="242" y="298" width="2" height="2"/>
<rect x="254" y="330" width="2" height="2"/>
<rect x="243" y="329" width="2" height="2"/>
<rect x="280" y="320" width="2" height="2"/>
<rect x="280" y="318" width="2" height="2"/>
<rect x="277" y="321" width="2" height="2"/>
<rect x="275" y="324" width="2" height="2"/>
<rect x="279" y="317" width="2" height="2"/>
<rect x="277" y="316" width="2" height="2"/>
<rect x="274" y="327" width="2" height="2"/>
<rect x="279" y="317" width="2" height="2"/>
<rect x="273" y="312" width="2" height="2"/>
<rect x="279" y="318" width="2" height="2"/>
<rect x="277" y="330" width="2" height="2"/>
<rect x="278" y="327" width="2" height="2"/>
<rect x="280" y="324" width="2" height="2"/>
<rect x="282" y="320" width="2" height="2"/>
<rect x="274" y="323" width="2" height="2"/>
<rect x="273" y="325" width="2" height="2"/>
<rect x="279" y="312" width="2" height="2"/>
<rect x="273" y="324" width="2" height="2"/>
<rect x="276" y="325" width="2" height="2"/>
<rect x="283" y="315" width="2" height="2"/>
<rect x="275" y="315" width="2" height="2"/>
<rect x="272" y="316" width="2" height="2"/>
<rect x="273" y="323" width="2" height="2"/>
<rect x="278" y="321" width="2" height="2"/>
<rect x="275" y="321" width="2" height="2"/>
<rect x="273" y="317" width="2" height="2"/>
<rect x="276" y="325" width="2" height="2"/>
<rect x="276" y="319" width="2" height="2"/>
<rect x="279" y="327" width="2" height="2"/>
<rect x="274" y="319" width="2" height="2"/>
<rect x="274" y="321" width="2" height="2"/>
<rect x="280" y="323" width="2" height="2"/>
<rect x="278" y="314" width="2" height="2"/>
<rect x="277" y="317" width="2" height="2"/>
<rect x="277" y="330" width="2" height="2"/>
<rect x="280" y="329" width="2" height="2"/>
<rect x="276" y="322" width="2" height="2"/>
<rect x="273" y="331" width="2" height="2"/>
<rect x="271" y="313" width="2" height="2"/>
<rect x="278" y="317" width="2" height="2"/>
<rect x="277" y="312" width="2" height="2"/>
<rect x="275" y="327" width="2" height="2"/>
<rect x="281" y="324" width="2" height="2"/>
<rect x="278" y="317" width="2" height="2"/>
<rect x="275" y="326" width="2" height="2"/>
<rect x="276" y="319" width="2" height="2"/>
<rect x="276" y="316" width="2" height="2"/>
<rect x="277" y="316" width="2" height="2"/>
<rect x="274" y="317" width="2" height="2"/>
<rect x="280" y="323" width="2" height="2"/>
<rect x="280" y="314" width="2" height="2"/>
<rect x="277" y="313" width="2" height="2"/>
<rect x="273" y="297" width="2" height="2"/>
<rect x="276" y="296" width="2" height="2"/>
<rect x="278" y="301" width="2" height="2"/>
<rect x="265" y="308" width="2" height="2"/>
<rect x="271" y="318" width="2" height="2"/>
<rect x="266" y="326" width="2" height="2"/>
<rect x="269" y="330" width="2" height="2"/>
<rect x="282" y="311" width="2" height="2"/>
<rect x="280" y="305" width="2" height="2"/>
<rect x="266" y="377" width="2" height="2"/>
<rect x="267" y="379" width="2" height="2"/>
<rect x="269" y="339" width="2" height="2"/>
<rect x="267" y="346" width="2" height="2"/>
<rect x="271" y="364" width="2" height="2"/>
<rect x="265" y="343" width="2" height="2"/>
<rect x="267" y="358" width="2" height="2"/>
<rect x="269" y="354" width="2" height="2"/>
<rect x="267" y="335" width="2" height="2"/>
<rect x="269" y="352" width="2" height="2"/>
<rect x="265" y="358" width="2" height="2"/>
<rect x="271" y="337" width="2" height="2"/>
<rect x="266" y="369" width="2" height="2"/>
<rect x="266" y="349" width="2" height="2"/>
<rect x="268" y="348" width="2" height="2"/>
<rect x="268" y="361" width="2" height="2"/>
<rect x="271" y="385" width="2" height="2"/>
<rect x="265" y="363" width="2" height="2"/>
<rect x="270" y="379" width="2" height="2"/>
<rect x="270" y="367" width="2" height="2"/>
<rect x="269" y="353" width="2" height="2"/>
<rect x="266" y="375" width="2" height="2"/>
<rect x="271" y="382" width="2" height="2"/>
<rect x="269" y="350" width="2" height="2"/>
<rect x="270" y="372" width="2" height="2"/>
<rect x="268" y="367" width="2" height="2"/>
<rect x="267" y="363" width="2" height="2"/>
<rect x="267" y="338" width="2" height="2"/>
<rect x="267" y="351" width="2" height="2"/>
<rect x="271" y="359" width="2" height="2"/>
<rect x="267" y="347" width="2" height="2"/>
<rect x="266" y="352" width="2" height="2"/>
<rect x="265" y="335" width="2" height="2"/>
<rect x="271" y="358" width="2" height="2"/>
<rect x="268" y="363" width="2" height="2"/>
<rect x="267" y="343" width="2" height="2"/>
<rect x="265" y="350" width="2" height="2"/>
<rect x="267" y="371" width="2" height="2"/>
<rect x="268" y="382" width="2" height="2"/>
<rect x="267" y="381" width="2" height="2"/>
<rect x="269" y="339" width="2" height="2"/>
<rect x="266" y="364" width="2" height="2"/>
<rect x="271" y="353" width="2" height="2"/>
<rect x="270" y="356" width="2" height="2"/>
<rect x="271" y="338" width="2" height="2"/>
<rect x="268" y="380" width="2" height="2"/>
<rect x="266" y="348" width="2" height="2"/>
<rect x="265" y="343" width="2" height="2"/>
<rect x="266" y="370" width="2" height="2"/>
<rect x="266" y="355" width="2" height="2"/>
<rect x="266" y="365" width="2" height="2"/>
<rect x="271" y="367" width="2" height="2"/>
<rect x="266" y="372" width="2" height="2"/>
<rect x="271" y="365" width="2" height="2"/>
<rect x="265" y="375" width="2" height="2"/>
<rect x="271" y="352" width="2" height="2"/>
<rect x="265" y="344" width="2" height="2"/>
<rect x="268" y="379" width="2" height="2"/>
<rect x="270" y="374" width="2" height="2"/>
<rect x="271" y="383" width="2" height="2"/>
<rect x="271" y="375" width="2" height="2"/>
<rect x="270" y="383" width="2" height="2"/>
<rect x="271" y="381" width="2" height="2"/>
<rect x="271" y="381" width="2" height="2"/>
<rect x="270" y="378" width="2" height="2"/>
<rect x="270" y="380" width="2" height="2"/>
<rect x="271" y="384" width="2" height="2"/>
<rect x="272" y="382" width="2" height="2"/>
<rect x="276" y="341" width="2" height="2"/>
<rect x="273" y="337" width="2" height="2"/>
<rect x="273" y="350" width="2" height="2"/>
<rect x="272" y="351" width="2" height="2"/>
<rect x="274" y="345" width="2" height="2"/>
<rect x="275" y="346" width="2" height="2"/>
<rect x="276" y="347" width="2" height="2"/>
<rect x="274" y="350" width="2" height="2"/>
<rect x="273" y="349" width="2" height="2"/>
<rect x="276" y="350" width="2" height="2"/>
<rect x="274" y="350" width="2" height="2"/>
<rect x="277" y="344" width="2" height="2"/>
<rect x="274" y="345" width="2" height="2"/>
<rect x="277" y="337" width="2" height="2"/>
<rect x="277" y="357" width="2" height="2"/>
<rect x="280" y="345" width="2" height="2"/>
<rect x="275" y="368" width="2" height="2"/>
<rect x="258" y="388" width="2" height="2"/>
<rect x="273" y="389" width="2" height="2"/>
<rect x="274" y="389" width="2" height="2"/>
<rect x="275" y="389" width="2" height="2"/>
<rect x="298" y="375" width="2" height="2"/>
<rect x="299" y="382" width="2" height="2"/>
<rect x="298" y="387" width="2" height="2"/>
<rect x="298" y="381" width="2" height="2"/>
<rect x="298" y="365" width="2" height="2"/>
<rect x="298" y="365" width="2" height="2"/>
<rect x="299" y="377" width="2" height="2"/>
<rect x="298" y="386" width="2" height="2"/>
<rect x="298" y="367" width="2" height="2"/>
<rect x="298" y="381" width="2" height="2"/>
<rect x="300" y="368" width="2" height="2"/>
<rect x="298" y="382" width="2" height="2"/>
<rect x="298" y="387" width="2" height="2"/>
<rect x="299" y="379" width="2" height="2"/>
<rect x="298" y="382" width="2" height="2"/>
<rect x="299" y="371" width="2" height="2"/>
<rect x="300" y="366" width="2" height="2"/>
<rect x="299" y="366" width="2" height="2"/>
<rect x="299" y="373" width="2" height="2"/>
<rect x="300" y="365" width="2" height="2"/>
<rect x="299" y="373" width="2" height="2"/>
<rect x="300" y="386" width="2" height="2"/>
<rect x="299" y="369" width="2" height="2"/>
<rect x="298" y="370" width="2" height="2"/>
<rect x="299" y="369" width="2" height="2"/>
<rect x="298" y="381" width="2" height="2"/>
<rect x="299" y="371" width="2" height="2"/>
<rect x="300" y="369" width="2" height="2"/>
<rect x="299" y="368" width="2" height="2"/>
<rect x="300" y="361" width="2" height="2"/>
<rect x="298" y="358" width="2" height="2"/>
<rect x="300" y="347" width="2" height="2"/>
<rect x="298" y="352" width="2" height="2"/>
<rect x="300" y="344" width="2" height="2"/>
<rect x="299" y="354" width="2" height="2"/>
<rect x="301" y="316" width="2" height="2"/>
<rect x="303" y="312" width="2" height="2"/>
<rect x="303" y="311" width="2" height="2"/>
<rect x="302" y="305" width="2" height="2"/>
<rect x="303" y="322" width="2" height="2"/>
<rect x="303" y="314" width="2" height="2"/>
<rect x="302" y="314" width="2" height="2"/>
<rect x="302" y="314" width="2" height="2"/>
<rect x="302" y="313" width="2" height="2"/>
<rect x="302" y="312" width="2" height="2"/>
<rect x="303" y="320" width="2" height="2"/>
<rect x="303" y="316" width="2" height="2"/>
<rect x="303" y="310" width="2" height="2"/>
<rect x="304" y="306" width="2" height="2"/>
<rect x="303" y="315" width="2" height="2"/>
<rect x="302" y="307" width="2" height="2"/>
<rect x="303" y="315" width="2" height="2"/>
<rect x="302" y="319" width="2" height="2"/>
<rect x="307" y="364" width="2" height="2"/>
<rect x="309" y="364" width="2" height="2"/>
<rect x="308" y="363" width="2" height="2"/>
<rect x="306" y="364" width="2" height="2"/>
<rect x="306" y="365" width="2" height="2"/>
<rect x="307" y="363" width="2" height="2"/>
<rect x="307" y="361" width="2" height="2"/>
<rect x="308" y="366" width="2" height="2"/>
<rect x="307" y="365" width="2" height="2"/>
<rect x="310" y="363" width="2" height="2"/>
<rect x="307" y="362" width="2" height="2"/>
<rect x="308" y="366" width="2" height="2"/>
<rect x="308" y="364" width="2" height="2"/>
<rect x="306" y="364" width="2" height="2"/>
<rect x="306" y="363" width="2" height="2"/>
<rect x="309" y="364" width="2" height="2"/>
<rect x="306" y="361" width="2" height="2"/>
<rect x="305" y="363" width="2" height="2"/>
<rect x="310" y="363" width="2" height="2"/>
<rect x="307" y="362" width="2" height="2"/>
<rect x="307" y="366" width="2" height="2"/>
<rect x="309" y="364" width="2" height="2"/>
<rect x="306" y="366" width="2" height="2"/>
<rect x="309" y="364" width="2" height="2"/>
<rect x="308" y="363" width="2" height="2"/>
<rect x="306" y="362" width="2" height="2"/>
<rect x="307" y="366" width="2" height="2"/>
<rect x="309" y="367" width="2" height="2"/>
<rect x="308" y="359" width="2" height="2"/>
<rect x="309" y="365" width="2" height="2"/>
<rect x="306" y="367" width="2" height="2"/>
<rect x="304" y="354" width="2" height="2"/>
<rect x="298" y="384" width="2" height="2"/>
<rect x="305" y="387" width="2" height="2"/>
<rect x="315" y="383" width="2" height="2"/>
<rect x="317" y="383" width="2" height="2"/>
<rect x="318" y="383" width="2" height="2"/>
<rect x="320" y="383" width="2" height="2"/>
<rect x="321" y="383" width="2" height="2"/>
<rect x="322" y="383" width="2" height="2"/>
<rect x="323" y="383" width="2" height="2"/>
<rect x="324" y="383" width="2" height="2"/>
<rect x="325" y="383" width="2" height="2"/>
<rect x="327" y="383" width="2" height="2"/>
<rect x="313" y="376" width="2" height="2"/>
<rect x="314" y="376" width="2" height="2"/>
<rect x="315" y="376" width="2" height="2"/>
<rect x="316" y="376" width="2" height="2"/>
<rect x="317" y="376" width="2" height="2"/>
<rect x="319" y="376" width="2" height="2"/>
<rect x="320" y="376" width="2" height="2"/>
<rect x="321" y="376" width="2" height="2"/>
<rect x="322" y="376" width="2" height="2"/>
<rect x="323" y="376" width="2" height="2"/>
<rect x="325" y="376" width="2" height="2"/>
<rect x="325" y="376" width="2" height="2"/>
<rect x="327" y="376" width="2" height="2"/>
<rect x="328" y="376" width="2" height="2"/>
<rect x="314" y="370" width="2" height="2"/>
<rect x="315" y="370" width="2" height="2"/>
<rect x="317" y="370" width="2" height="2"/>
<rect x="319" y="370" width="2" height="2"/>
<rect x="321" y="370" width="2" height="2"/>
<rect x="322" y="370" width="2" height="2"/>
<rect x="324" y="370" width="2" height="2"/>
<rect x="326" y="370" width="2" height="2"/>
<rect x="327" y="370" width="2" height="2"/>
<rect x="328" y="370" width="2" height="2"/>
<rect x="314" y="363" width="2" height="2"/>
<rect x="315" y="363" width="2" height="2"/>
<rect x="316" y="363" width="2" height="2"/>
<rect x="321" y="363" width="2" height="2"/>
<rect x="314" y="356" width="2" height="2"/>
<rect x="315" y="356" width="2" height="2"/>
<rect x="316" y="356" width="2" height="2"/>
<rect x="317" y="356" width="2" height="2"/>
<rect x="321" y="356" width="2" height="2"/>
<rect x="322" y="356" width="2" height="2"/>
<rect x="324" y="356" width="2" height="2"/>
<rect x="325" y="356" width="2" height="2"/>
<rect x="326" y="356" width="2" height="2"/>
<rect x="315" y="349" width="2" height="2"/>
<rect x="323" y="349" width="2" height="2"/>
<rect x="327" y="349" width="2" height="2"/>
<rect x="316" y="342" width="2" height="2"/>
<rect x="325" y="342" width="2" height="2"/>
<rect x="318" y="335" width="2" height="2"/>
<rect x="325" y="335" width="2" height="2"/>
<rect x="326" y="335" width="2" height="2"/>
<rect x="318" y="328" width="2" height="2"/>
<rect x="319" y="328" width="2" height="2"/>
<rect x="320" y="328" width="2" height="2"/>
<rect x="319" y="305" width="2" height="2"/>
<rect x="319" y="313" width="2" height="2"/>
<rect x="323" y="299" width="2" height="2"/>
<rect x="331" y="317" width="2" height="2"/>
<rect x="331" y="319" width="2" height="2"/>
<rect x="332" y="320" width="2" height="2"/>
<rect x="340" y="315" width="2" height="2"/>
<rect x="335" y="317" width="2" height="2"/>
<rect x="332" y="313" width="2" height="2"/>
<rect x="340" y="317" width="2" height="2"/>
<rect x="335" y="310" width="2" height="2"/>
<rect x="329" y="318" width="2" height="2"/>
<rect x="332" y="308" width="2" height="2"/>
<rect x="334" y="306" width="2" height="2"/>
<rect x="340" y="320" width="2" height="2"/>
<rect x="337" y="316" width="2" height="2"/>
<rect x="341" y="317" width="2" height="2"/>
<rect x="340" y="319" width="2" height="2"/>
<rect x="342" y="315" width="2" height="2"/>
<rect x="337" y="322" width="2" height="2"/>
<rect x="335" y="322" width="2" height="2"/>
<rect x="338" y="309" width="2" height="2"/>
<rect x="341" y="316" width="2" height="2"/>
<rect x="338" y="312" width="2" height="2"/>
<rect x="330" y="314" width="2" height="2"/>
<rect x="332" y="312" width="2" height="2"/>
<rect x="341" y="312" width="2" height="2"/>
<rect x="330" y="314" width="2" height="2"/>
<rect x="334" y="327" width="2" height="2"/>
<rect x="335" y="309" width="2" height="2"/>
<rect x="331" y="319" width="2" height="2"/>
<rect x="335" y="313" width="2" height="2"/>
<rect x="334" y="312" width="2" height="2"/>
<rect x="336" y="307" width="2" height="2"/>
<rect x="335" y="320" width="2" height="2"/>
<rect x="339" y="313" width="2" height="2"/>
<rect x="335" y="306" width="2" height="2"/>
<rect x="335" y="325" width="2" height="2"/>
<rect x="343" y="319" width="2" height="2"/>
<rect x="334" y="320" width="2" height="2"/>
<rect x="334" y="313" width="2" height="2"/>
<rect x="338" y="309" width="2" height="2"/>
<rect x="333" y="318" width="2" height="2"/>
<rect x="337" y="324" width="2" height="2"/>
<rect x="335" y="308" width="2" height="2"/>
<rect x="340" y="310" width="2" height="2"/>
<rect x="340" y="314" width="2" height="2"/>
<rect x="336" y="308" width="2" height="2"/>
<rect x="328" y="316" width="2" height="2"/>
<rect x="337" y="320" width="2" height="2"/>
<rect x="338" y="311" width="2" height="2"/>
<rect x="328" y="312" width="2" height="2"/>
<rect x="334" y="315" width="2" height="2"/>
<rect x="337" y="326" width="2" height="2"/>
<rect x="334" y="318" width="2" height="2"/>
<rect x="329" y="312" width="2" height="2"/>
<rect x="342" y="318" width="2" height="2"/>
<rect x="338" y="322" width="2" height="2"/>
<rect x="335" y="314" width="2" height="2"/>
<rect x="333" y="323" width="2" height="2"/>
<rect x="337" y="318" width="2" height="2"/>
<rect x="331" y="317" width="2" height="2"/>
<rect x="337" y="322" width="2" height="2"/>
<rect x="337" y="322" width="2" height="2"/>
<rect x="333" y="325" width="2" height="2"/>
<rect x="340" y="317" width="2" height="2"/>
<rect x="331" y="314" width="2" height="2"/>
<rect x="339" y="320" width="2" height="2"/>
<rect x="332" y="315" width="2" height="2"/>
<rect x="331" y="312" width="2" height="2"/>
<rect x="335" y="315" width="2" height="2"/>
<rect x="336" y="314" width="2" height="2"/>
<rect x="338" y="309" width="2" height="2"/>
<rect x="337" y="315" width="2" height="2"/>
<rect x="334" y="319" width="2" height="2"/>
<rect x="334" y="312" width="2" height="2"/>
<rect x="335" y="323" width="2" height="2"/>
<rect x="340" y="316" width="2" height="2"/>
<rect x="337" y="304" width="2" height="2"/>
<rect x="338" y="322" width="2" height="2"/>
<rect x="340" y="321" width="2" height="2"/>
<rect x="341" y="313" width="2" height="2"/>
<rect x="340" y="305" width="2" height="2"/>
<rect x="338" y="307" width="2" height="2"/>
<rect x="339" y="306" width="2" height="2"/>
<rect x="341" y="313" width="2" height="2"/>
<rect x="342" y="316" width="2" height="2"/>
<rect x="335" y="320" width="2" height="2"/>
<rect x="328" y="314" width="2" height="2"/>
<rect x="331" y="320" width="2" height="2"/>
<rect x="341" y="312" width="2" height="2"/>
<rect x="331" y="309" width="2" height="2"/>
<rect x="340" y="308" width="2" height="2"/>
<rect x="338" y="315" width="2" height="2"/>
<rect x="331" y="312" width="2" height="2"/>
<rect x="331" y="322" width="2" height="2"/>
<rect x="338" y="317" width="2" height="2"/>
<rect x="333" y="309" width="2" height="2"/>
<rect x="342" y="319" width="2" height="2"/>
<rect x="340" y="316" width="2" height="2"/>
<rect x="329" y="310" width="2" height="2"/>
<rect x="341" y="313" width="2" height="2"/>
<rect x="337" y="312" width="2" height="2"/>
<rect x="336" y="325" width="2" height="2"/>
<rect x="337" y="323" width="2" height="2"/>
<rect x="337" y="312" width="2" height="2"/>
<rect x="341" y="311" width="2" height="2"/>
<rect x="328" y="320" width="2" height="2"/>
<rect x="328" y="292" width="2" height="2"/>
<rect x="330" y="296" width="2" height="2"/>
<rect x="330" y="300" width="2" height="2"/>
<rect x="340" y="296" width="2" height="2"/>
<rect x="339" y="301" width="2" height="2"/>
<rect x="335" y="299" width="2" height="2"/>
<rect x="332" y="302" width="2" height="2"/>
<rect x="337" y="304" width="2" height="2"/>
<rect x="361" y="308" width="2" height="2"/>
<rect x="370" y="312" width="2" height="2"/>
<rect x="374" y="316" width="2" height="2"/>
<rect x="361" y="315" width="2" height="2"/>
<rect x="367" y="312" width="2" height="2"/>
<rect x="376" y="312" width="2" height="2"/>
<rect x="364" y="314" width="2" height="2"/>
<rect x="364" y="308" width="2" height="2"/>
<rect x="363" y="311" width="2" height="2"/>
<rect x="367" y="307" width="2" height="2"/>
<rect x="365" y="305" width="2" height="2"/>
<rect x="360" y="308" width="2" height="2"/>
<rect x="372" y="319" width="2" height="2"/>
<rect x="367" y="309" width="2" height="2"/>
<rect x="368" y="320" width="2" height="2"/>
<rect x="370" y="319" width="2" height="2"/>
<rect x="365" y="321" width="2" height="2"/>
<rect x="364" y="318" width="2" height="2"/>
<rect x="367" y="325" width="2" height="2"/>
<rect x="362" y="306" width="2" height="2"/>
<rect x="366" y="305" width="2" height="2"/>
<rect x="365" y="310" width="2" height="2"/>
<rect x="362" y="312" width="2" height="2"/>
<rect x="368" y="310" width="2" height="2"/>
<rect x="362" y="323" width="2" height="2"/>
<rect x="373" y="315" width="2" height="2"/>
<rect x="361" y="320" width="2" height="2"/>
<rect x="360" y="303" width="2" height="2"/>
<rect x="370" y="306" width="2" height="2"/>
<rect x="364" y="318" width="2" height="2"/>
<rect x="369" y="323" width="2" height="2"/>
<rect x="364" y="305" width="2" height="2"/>
<rect x="370" y="316" width="2" height="2"/>
<rect x="362" y="307" width="2" height="2"/>
<rect x="366" y="322" width="2" height="2"/>
<rect x="371" y="320" width="2" height="2"/>
<rect x="374" y="305" width="2" height="2"/>
<rect x="363" y="306" width="2" height="2"/>
<rect x="365" y="305" width="2" height="2"/>
<rect x="360" y="308" width="2" height="2"/>
<rect x="366" y="314" width="2" height="2"/>
<rect x="369" y="307" width="2" height="2"/>
<rect x="371" y="308" width="2" height="2"/>
<rect x="371" y="319" width="2" height="2"/>
<rect x="362" y="311" width="2" height="2"/>
<rect x="370" y="316" width="2" height="2"/>
<rect x="364" y="323" width="2" height="2"/>
<rect x="370" y="322" width="2" height="2"/>
<rect x="376" y="316" width="2" height="2"/>
<rect x="364" y="313" width="2" height="2"/>
<rect x="361" y="310" width="2" height="2"/>
<rect x="370" y="324" width="2" height="2"/>
<rect x="372" y="312" width="2" height="2"/>
<rect x="362" y="315" width="2" height="2"/>
<rect x="365" y="307" width="2" height="2"/>
<rect x="364" y="319" width="2" height="2"/>
<rect x="362" y="314" width="2" height="2"/>
<rect x="367" y="318" width="2" height="2"/>
<rect x="377" y="311" width="2" height="2"/>
<rect x="366" y="304" width="2" height="2"/>
<rect x="375" y="313" width="2" height="2"/>
<rect x="367" y="322" width="2" height="2"/>
<rect x="373" y="313" width="2" height="2"/>
<rect x="362" y="321" width="2" height="2"/>
<rect x="371" y="317" width="2" height="2"/>
<rect x="360" y="314" width="2" height="2"/>
<rect x="359" y="315" width="2" height="2"/>
<rect x="361" y="311" width="2" height="2"/>
<rect x="375" y="312" width="2" height="2"/>
<rect x="373" y="311" width="2" height="2"/>
<rect x="370" y="304" width="2" height="2"/>
<rect x="368" y="322" width="2" height="2"/>
<rect x="371" y="305" width="2" height="2"/>
<rect x="373" y="309" width="2" height="2"/>
<rect x="359" y="306" width="2" height="2"/>
<rect x="369" y="318" width="2" height="2"/>
<rect x="373" y="319" width="2" height="2"/>
<rect x="359" y="314" width="2" height="2"/>
<rect x="365" y="314" width="2" height="2"/>
<rect x="361" y="313" width="2" height="2"/>
<rect x="367" y="321" width="2" height="2"/>
<rect x="372" y="322" width="2" height="2"/>
<rect x="368" y="326" width="2" height="2"/>
<rect x="368" y="302" width="2" height="2"/>
<rect x="372" y="314" width="2" height="2"/>
<rect x="369" y="317" width="2" height="2"/>
<rect x="370" y="322" width="2" height="2"/>
<rect x="371" y="311" width="2" height="2"/>
<rect x="369" y="309" width="2" height="2"/>
<rect x="371" y="324" width="2" height="2"/>
<rect x="375" y="318" width="2" height="2"/>
<rect x="373" y="313" width="2" height="2"/>
<rect x="358" y="312" width="2" height="2"/>
<rect x="368" y="314" width="2" height="2"/>
<rect x="366" y="314" width="2" height="2"/>
<rect x="370" y="305" width="2" height="2"/>
<rect x="364" y="310" width="2" height="2"/>
<rect x="373" y="313" width="2" height="2"/>
<rect x="366" y="303" width="2" height="2"/>
<rect x="364" y="318" width="2" height="2"/>
<rect x="360" y="306" width="2" height="2"/>
<rect x="369" y="314" width="2" height="2"/>
<rect x="360" y="313" width="2" height="2"/>
<rect x="362" y="303" width="2" height="2"/>
<rect x="374" y="308" width="2" height="2"/>
<rect x="361" y="305" width="2" height="2"/>
<rect x="369" y="324" width="2" height="2"/>
<rect x="366" y="321" width="2" height="2"/>
<rect x="374" y="318" width="2" height="2"/>
<rect x="376" y="306" width="2" height="2"/>
<rect x="367" y="309" width="2" height="2"/>
<rect x="373" y="312" width="2" height="2"/>
<rect x="364" y="320" width="2" height="2"/>
<rect x="371" y="307" width="2" height="2"/>
<rect x="363" y="323" width="2" height="2"/>
<rect x="369" y="312" width="2" height="2"/>
<rect x="356" y="312" width="2" height="2"/>
<rect x="364" y="303" width="2" height="2"/>
<rect x="366" y="324" width="2" height="2"/>
<rect x="366" y="303" width="2" height="2"/>
<rect x="364" y="303" width="2" height="2"/>
<rect x="369" y="320" width="2" height="2"/>
<rect x="370" y="319" width="2" height="2"/>
<rect x="359" y="307" width="2" height="2"/>
<rect x="366" y="316" width="2" height="2"/>
<rect x="366" y="318" width="2" height="2"/>
<rect x="374" y="314" width="2" height="2"/>
<rect x="368" y="318" width="2" height="2"/>
<rect x="365" y="306" width="2" height="2"/>
<rect x="372" y="310" width="2" height="2"/>
<rect x="370" y="307" width="2" height="2"/>
<rect x="366" y="308" width="2" height="2"/>
<rect x="370" y="288" width="2" height="2"/>
<rect x="372" y="292" width="2" height="2"/>
<rect x="374" y="293" width="2" height="2"/>
<rect x="364" y="294" width="2" height="2"/>
<rect x="371" y="298" width="2" height="2"/>
<rect x="367" y="299" width="2" height="2"/>
<rect x="374" y="330" width="2" height="2"/>
<rect x="374" y="328" width="2" height="2"/>
<rect x="380" y="312" width="2" height="2"/>
<rect x="379" y="308" width="2" height="2"/>
<rect x="379" y="311" width="2" height="2"/>
<rect x="379" y="316" width="2" height="2"/>
<rect x="380" y="313" width="2" height="2"/>
<rect x="379" y="309" width="2" height="2"/>
<rect x="379" y="316" width="2" height="2"/>
<rect x="381" y="315" width="2" height="2"/>
<rect x="381" y="323" width="2" height="2"/>
<rect x="378" y="320" width="2" height="2"/>
<rect x="380" y="321" width="2" height="2"/>
<rect x="379" y="319" width="2" height="2"/>
<rect x="379" y="314" width="2" height="2"/>
<rect x="379" y="323" width="2" height="2"/>
<rect x="379" y="319" width="2" height="2"/>
<rect x="379" y="310" width="2" height="2"/>
<rect x="379" y="317" width="2" height="2"/>
<rect x="358" y="343" width="2" height="2"/>
<rect x="364" y="363" width="2" height="2"/>
<rect x="363" y="376" width="2" height="2"/>
<rect x="377" y="338" width="2" height="2"/>
<rect x="380" y="351" width="2" height="2"/>
<rect x="375" y="381" width="2" height="2"/>
<rect x="380" y="384" width="2" height="2"/>
<rect x="381" y="367" width="2" height="2"/>
<rect x="381" y="364" width="2" height="2"/>
<rect x="382" y="365" width="2" height="2"/>
<rect x="381" y="362" width="2" height="2"/>
<rect x="382" y="367" width="2" height="2"/>
<rect x="381" y="366" width="2" height="2"/>
<rect x="380" y="367" width="2" height="2"/>
<rect x="382" y="367" width="2" height="2"/>
<rect x="381" y="366" width="2" height="2"/>
<rect x="382" y="368" width="2" height="2"/>
<rect x="382" y="367" width="2" height="2"/>
<rect x="381" y="368" width="2" height="2"/>
<rect x="383" y="365" width="2" height="2"/>
<rect x="382" y="367" width="2" height="2"/>
<rect x="381" y="363" width="2" height="2"/>
<rect x="383" y="362" width="2" height="2"/>
<rect x="441" y="268" width="2" height="2"/>
<rect x="432" y="384" width="2" height="2"/>
<rect x="433" y="384" width="2" height="2"/>
<rect x="434" y="384" width="2" height="2"/>
<rect x="435" y="384" width="2" height="2"/>
<rect x="437" y="384" width="2" height="2"/>
<rect x="438" y="384" width="2" height="2"/>
<rect x="439" y="384" width="2" height="2"/>
<rect x="440" y="384" width="2" height="2"/>
<rect x="441" y="384" width="2" height="2"/>
<rect x="431" y="379" width="2" height="2"/>
<rect x="433" y="379" width="2" height="2"/>
<rect x="435" y="379" width="2" height="2"/>
<rect x="435" y="379" width="2" height="2"/>
<rect x="437" y="379" width="2" height="2"/>
<rect x="438" y="379" width="2" height="2"/>
<rect x="439" y="379" width="2" height="2"/>
<rect x="440" y="379" width="2" height="2"/>
<rect x="442" y="379" width="2" height="2"/>
<rect x="431" y="374" width="2" height="2"/>
<rect x="432" y="374" width="2" height="2"/>
<rect x="433" y="374" width="2" height="2"/>
<rect x="435" y="374" width="2" height="2"/>
<rect x="435" y="374" width="2" height="2"/>
<rect x="437" y="374" width="2" height="2"/>
<rect x="438" y="374" width="2" height="2"/>
<rect x="439" y="374" width="2" height="2"/>
<rect x="441" y="374" width="2" height="2"/>
<rect x="432" y="369" width="2" height="2"/>
<rect x="433" y="369" width="2" height="2"/>
<rect x="434" y="369" width="2" height="2"/>
<rect x="436" y="369" width="2" height="2"/>
<rect x="436" y="369" width="2" height="2"/>
<rect x="438" y="369" width="2" height="2"/>
<rect x="440" y="369" width="2" height="2"/>
<rect x="431" y="364" width="2" height="2"/>
<rect x="432" y="364" width="2" height="2"/>
<rect x="433" y="364" width="2" height="2"/>
<rect x="435" y="364" width="2" height="2"/>
<rect x="439" y="364" width="2" height="2"/>
<rect x="440" y="364" width="2" height="2"/>
<rect x="441" y="364" width="2" height="2"/>
<rect x="433" y="358" width="2" height="2"/>
<rect x="434" y="358" width="2" height="2"/>
<rect x="435" y="358" width="2" height="2"/>
<rect x="438" y="358" width="2" height="2"/>
<rect x="440" y="358" width="2" height="2"/>
<rect x="441" y="358" width="2" height="2"/>
<rect x="436" y="348" width="2" height="2"/>
<rect x="440" y="348" width="2" height="2"/>
<rect x="442" y="348" width="2" height="2"/>
<rect x="443" y="348" width="2" height="2"/>
<rect x="434" y="343" width="2" height="2"/>
<rect x="442" y="343" width="2" height="2"/>
<rect x="438" y="338" width="2" height="2"/>
<rect x="442" y="338" width="2" height="2"/>
<rect x="442" y="332" width="2" height="2"/>
<rect x="443" y="333" width="2" height="2"/>
<rect x="442" y="327" width="2" height="2"/>
<rect x="442" y="322" width="2" height="2"/>
<rect x="437" y="317" width="2" height="2"/>
<rect x="442" y="317" width="2" height="2"/>
<rect x="443" y="311" width="2" height="2"/>
<rect x="459" y="342" width="2" height="2"/>
<rect x="461" y="339" width="2" height="2"/>
<rect x="462" y="336" width="2" height="2"/>
<rect x="460" y="349" width="2" height="2"/>
<rect x="460" y="342" width="2" height="2"/>
<rect x="461" y="341" width="2" height="2"/>
<rect x="461" y="342" width="2" height="2"/>
<rect x="460" y="349" width="2" height="2"/>
<rect x="461" y="339" width="2" height="2"/>
<rect x="459" y="340" width="2" height="2"/>
<rect x="461" y="337" width="2" height="2"/>
<rect x="460" y="341" width="2" height="2"/>
<rect x="460" y="346" width="2" height="2"/>
<rect x="459" y="339" width="2" height="2"/>
<rect x="462" y="337" width="2" height="2"/>
<rect x="460" y="343" width="2" height="2"/>
<rect x="459" y="333" width="2" height="2"/>
<rect x="461" y="334" width="2" height="2"/>
<rect x="461" y="363" width="2" height="2"/>
<rect x="462" y="373" width="2" height="2"/>
<rect x="461" y="379" width="2" height="2"/>
<rect x="461" y="377" width="2" height="2"/>
<rect x="460" y="378" width="2" height="2"/>
<rect x="461" y="374" width="2" height="2"/>
<rect x="461" y="371" width="2" height="2"/>
<rect x="460" y="376" width="2" height="2"/>
<rect x="461" y="375" width="2" height="2"/>
<rect x="460" y="376" width="2" height="2"/>
<rect x="461" y="371" width="2" height="2"/>
<rect x="461" y="373" width="2" height="2"/>
<rect x="461" y="378" width="2" height="2"/>
<rect x="687" y="325" width="2" height="2"/>
<rect x="681" y="330" width="2" height="2"/>
<rect x="683" y="330" width="2" height="2"/>
<rect x="684" y="330" width="2" height="2"/>
<rect x="679" y="321" width="2" height="2"/>
<rect x="683" y="321" width="2" height="2"/>
<rect x="687" y="327" width="2" height="2"/>
<rect x="687" y="323" width="2" height="2"/>
<rect x="681" y="320" width="2" height="2"/>
<rect x="683" y="322" width="2" height="2"/>
<rect x="681" y="320" width="2" height="2"/>
<rect x="682" y="326" width="2" height="2"/>
<rect x="683" y="328" width="2" height="2"/>
<rect x="683" y="326" width="2" height="2"/>
<rect x="682" y="317" width="2" height="2"/>
<rect x="687" y="323" width="2" height="2"/>
<rect x="680" y="325" width="2" height="2"/>
<rect x="683" y="328" width="2" height="2"/>
<rect x="685" y="329" width="2" height="2"/>
<rect x="683" y="319" width="2" height="2"/>
<rect x="684" y="333" width="2" height="2"/>
<rect x="684" y="332" width="2" height="2"/>
<rect x="684" y="333" width="2" height="2"/>
<rect x="681" y="322" width="2" height="2"/>
<rect x="684" y="322" width="2" height="2"/>
<rect x="682" y="325" width="2" height="2"/>
<rect x="685" y="330" width="2" height="2"/>
<rect x="681" y="328" width="2" height="2"/>
<rect x="682" y="323" width="2" height="2"/>
<rect x="682" y="319" width="2" height="2"/>
<rect x="682" y="332" width="2" height="2"/>
<rect x="684" y="332" width="2" height="2"/>
<rect x="686" y="324" width="2" height="2"/>
<rect x="683" y="323" width="2" height="2"/>
<rect x="687" y="329" width="2" height="2"/>
<rect x="685" y="322" width="2" height="2"/>
<rect x="679" y="326" width="2" height="2"/>
<rect x="680" y="324" width="2" height="2"/>
<rect x="681" y="331" width="2" height="2"/>
<rect x="682" y="330" width="2" height="2"/>
<rect x="682" y="321" width="2" height="2"/>
<rect x="686" y="323" width="2" height="2"/>
<rect x="684" y="323" width="2" height="2"/>
<rect x="683" y="324" width="2" height="2"/>
<rect x="683" y="326" width="2" height="2"/>
<rect x="682" y="327" width="2" height="2"/>
<rect x="684" y="326" width="2" height="2"/>
<rect x="684" y="328" width="2" height="2"/>
<rect x="680" y="324" width="2" height="2"/>
<rect x="683" y="320" width="2" height="2"/>
<rect x="684" y="334" width="2" height="2"/>
<rect x="684" y="317" width="2" height="2"/>
<rect x="686" y="325" width="2" height="2"/>
<rect x="683" y="319" width="2" height="2"/>
<rect x="684" y="324" width="2" height="2"/>
<rect x="681" y="330" width="2" height="2"/>
<rect x="685" y="332" width="2" height="2"/>
<rect x="685" y="307" width="2" height="2"/>
<rect x="682" y="314" width="2" height="2"/>
<rect x="687" y="367" width="2" height="2"/>
<rect x="679" y="338" width="2" height="2"/>
<rect x="701" y="325" width="2" height="2"/>
<rect x="701" y="332" width="2" height="2"/>
<rect x="701" y="328" width="2" height="2"/>
<rect x="701" y="323" width="2" height="2"/>
<rect x="702" y="322" width="2" height="2"/>
<rect x="700" y="335" width="2" height="2"/>
<rect x="701" y="325" width="2" height="2"/>
<rect x="700" y="331" width="2" height="2"/>
<rect x="700" y="360" width="2" height="2"/>
<rect x="701" y="364" width="2" height="2"/>
<rect x="730" y="305" width="2" height="2"/>
<rect x="737" y="305" width="2" height="2"/>
<rect x="733" y="308" width="2" height="2"/>
<rect x="737" y="308" width="2" height="2"/>
<rect x="735" y="312" width="2" height="2"/>
<rect x="733" y="329" width="2" height="2"/>
<rect x="731" y="334" width="2" height="2"/>
<rect x="734" y="328" width="2" height="2"/>
<rect x="737" y="339" width="2" height="2"/>
<rect x="735" y="338" width="2" height="2"/>
<rect x="733" y="345" width="2" height="2"/>
<rect x="734" y="329" width="2" height="2"/>
<rect x="728" y="335" width="2" height="2"/>
<rect x="737" y="325" width="2" height="2"/>
<rect x="734" y="323" width="2" height="2"/>
<rect x="736" y="325" width="2" height="2"/>
<rect x="730" y="345" width="2" height="2"/>
<rect x="733" y="331" width="2" height="2"/>
<rect x="733" y="323" width="2" height="2"/>
<rect x="734" y="320" width="2" height="2"/>
<rect x="733" y="320" width="2" height="2"/>
<rect x="735" y="334" width="2" height="2"/>
<rect x="735" y="331" width="2" height="2"/>
<rect x="732" y="326" width="2" height="2"/>
<rect x="736" y="326" width="2" height="2"/>
<rect x="730" y="329" width="2" height="2"/>
<rect x="730" y="328" width="2" height="2"/>
<rect x="736" y="330" width="2" height="2"/>
<rect x="738" y="323" width="2" height="2"/>
<rect x="737" y="329" width="2" height="2"/>
<rect x="733" y="322" width="2" height="2"/>
<rect x="731" y="343" width="2" height="2"/>
<rect x="732" y="335" width="2" height="2"/>
<rect x="733" y="326" width="2" height="2"/>
<rect x="735" y="344" width="2" height="2"/>
<rect x="729" y="324" width="2" height="2"/>
<rect x="734" y="323" width="2" height="2"/>
<rect x="737" y="338" width="2" height="2"/>
<rect x="737" y="339" width="2" height="2"/>
<rect x="730" y="336" width="2" height="2"/>
<rect x="733" y="325" width="2" height="2"/>
<rect x="729" y="341" width="2" height="2"/>
<rect x="734" y="339" width="2" height="2"/>
<rect x="730" y="333" width="2" height="2"/>
<rect x="737" y="331" width="2" height="2"/>
<rect x="735" y="346" width="2" height="2"/>
<rect x="738" y="339" width="2" height="2"/>
<rect x="730" y="343" width="2" height="2"/>
<rect x="732" y="336" width="2" height="2"/>
<rect x="737" y="333" width="2" height="2"/>
<rect x="729" y="322" width="2" height="2"/>
<rect x="731" y="343" width="2" height="2"/>
<rect x="734" y="332" width="2" height="2"/>
<rect x="734" y="320" width="2" height="2"/>
<rect x="736" y="329" width="2" height="2"/>
<rect x="737" y="343" width="2" height="2"/>
<rect x="731" y="343" width="2" height="2"/>
<rect x="733" y="327" width="2" height="2"/>
<rect x="730" y="325" width="2" height="2"/>
<rect x="730" y="325" width="2" height="2"/>
<rect x="732" y="339" width="2" height="2"/>
<rect x="733" y="342" width="2" height="2"/>
<rect x="733" y="331" width="2" height="2"/>
<rect x="734" y="327" width="2" height="2"/>
<rect x="732" y="345" width="2" height="2"/>
<rect x="737" y="329" width="2" height="2"/>
<rect x="737" y="330" width="2" height="2"/>
<rect x="737" y="326" width="2" height="2"/>
<rect x="733" y="320" width="2" height="2"/>
<rect x="736" y="335" width="2" height="2"/>
<rect x="732" y="330" width="2" height="2"/>
<rect x="731" y="324" width="2" height="2"/>
<rect x="736" y="332" width="2" height="2"/>
<rect x="735" y="349" width="2" height="2"/>
<rect x="734" y="340" width="2" height="2"/>
<rect x="731" y="329" width="2" height="2"/>
<rect x="737" y="334" width="2" height="2"/>
<rect x="728" y="337" width="2" height="2"/>
<rect x="731" y="341" width="2" height="2"/>
<rect x="732" y="332" width="2" height="2"/>
<rect x="733" y="330" width="2" height="2"/>
<rect x="733" y="332" width="2" height="2"/>
<rect x="731" y="321" width="2" height="2"/>
<rect x="739" y="328" width="2" height="2"/>
<rect x="732" y="344" width="2" height="2"/>
<rect x="735" y="316" width="2" height="2"/>
<rect x="732" y="324" width="2" height="2"/>
<rect x="732" y="328" width="2" height="2"/>
<rect x="734" y="350" width="2" height="2"/>
<rect x="733" y="325" width="2" height="2"/>
<rect x="734" y="327" width="2" height="2"/>
<rect x="737" y="341" width="2" height="2"/>
<rect x="735" y="344" width="2" height="2"/>
<rect x="733" y="347" width="2" height="2"/>
<rect x="729" y="335" width="2" height="2"/>
<rect x="747" y="345" width="2" height="2"/>
<rect x="748" y="335" width="2" height="2"/>
<rect x="747" y="324" width="2" height="2"/>
<rect x="751" y="334" width="2" height="2"/>
<rect x="752" y="348" width="2" height="2"/>
<rect x="742" y="333" width="2" height="2"/>
<rect x="744" y="342" width="2" height="2"/>
<rect x="746" y="335" width="2" height="2"/>
<rect x="748" y="339" width="2" height="2"/>
<rect x="746" y="326" width="2" height="2"/>
<rect x="750" y="348" width="2" height="2"/>
<rect x="744" y="338" width="2" height="2"/>
<rect x="741" y="341" width="2" height="2"/>
<rect x="745" y="350" width="2" height="2"/>
<rect x="745" y="322" width="2" height="2"/>
<rect x="746" y="337" width="2" height="2"/>
<rect x="744" y="324" width="2" height="2"/>
<rect x="749" y="321" width="2" height="2"/>
<rect x="744" y="325" width="2" height="2"/>
<rect x="748" y="345" width="2" height="2"/>
<rect x="743" y="344" width="2" height="2"/>
<rect x="747" y="351" width="2" height="2"/>
<rect x="746" y="334" width="2" height="2"/>
<rect x="743" y="345" width="2" height="2"/>
<rect x="746" y="343" width="2" height="2"/>
<rect x="740" y="329" width="2" height="2"/>
<rect x="749" y="331" width="2" height="2"/>
<rect x="744" y="327" width="2" height="2"/>
<rect x="749" y="334" width="2" height="2"/>
<rect x="751" y="338" width="2" height="2"/>
<rect x="749" y="345" width="2" height="2"/>
<rect x="751" y="327" width="2" height="2"/>
<rect x="745" y="337" width="2" height="2"/>
<rect x="745" y="348" width="2" height="2"/>
<rect x="750" y="328" width="2" height="2"/>
<rect x="747" y="342" width="2" height="2"/>
<rect x="750" y="332" width="2" height="2"/>
<rect x="742" y="352" width="2" height="2"/>
<rect x="751" y="342" width="2" height="2"/>
<rect x="746" y="328" width="2" height="2"/>
<rect x="746" y="322" width="2" height="2"/>
<rect x="743" y="328" width="2" height="2"/>
<rect x="743" y="332" width="2" height="2"/>
<rect x="748" y="342" width="2" height="2"/>
<rect x="745" y="330" width="2" height="2"/>
<rect x="742" y="332" width="2" height="2"/>
<rect x="750" y="342" width="2" height="2"/>
<rect x="746" y="352" width="2" height="2"/>
<rect x="741" y="339" width="2" height="2"/>
<rect x="747" y="349" width="2" height="2"/>
<rect x="740" y="335" width="2" height="2"/>
<rect x="747" y="338" width="2" height="2"/>
<rect x="743" y="328" width="2" height="2"/>
<rect x="749" y="333" width="2" height="2"/>
<rect x="743" y="349" width="2" height="2"/>
<rect x="748" y="340" width="2" height="2"/>
<rect x="744" y="330" width="2" height="2"/>
<rect x="744" y="337" width="2" height="2"/>
<rect x="746" y="325" width="2" height="2"/>
<rect x="743" y="343" width="2" height="2"/>
<rect x="748" y="337" width="2" height="2"/>
<rect x="751" y="343" width="2" height="2"/>
<rect x="746" y="351" width="2" height="2"/>
<rect x="745" y="326" width="2" height="2"/>
<rect x="741" y="331" width="2" height="2"/>
<rect x="742" y="337" width="2" height="2"/>
<rect x="740" y="339" width="2" height="2"/>
<rect x="748" y="326" width="2" height="2"/>
<rect x="749" y="345" width="2" height="2"/>
<rect x="747" y="334" width="2" height="2"/>
<rect x="750" y="343" width="2" height="2"/>
<rect x="745" y="325" width="2" height="2"/>
<rect x="746" y="327" width="2" height="2"/>
<rect x="748" y="334" width="2" height="2"/>
<rect x="746" y="330" width="2" height="2"/>
<rect x="749" y="343" width="2" height="2"/>
<rect x="752" y="336" width="2" height="2"/>
<rect x="744" y="349" width="2" height="2"/>
<rect x="739" y="325" width="2" height="2"/>
<rect x="742" y="333" width="2" height="2"/>
<rect x="743" y="345" width="2" height="2"/>
<rect x="745" y="345" width="2" height="2"/>
<rect x="742" y="344" width="2" height="2"/>
<rect x="745" y="349" width="2" height="2"/>
<rect x="744" y="335" width="2" height="2"/>
<rect x="742" y="343" width="2" height="2"/>
<rect x="748" y="325" width="2" height="2"/>
<rect x="742" y="340" width="2" height="2"/>
<rect x="746" y="322" width="2" height="2"/>
<rect x="746" y="321" width="2" height="2"/>
<rect x="740" y="367" width="2" height="2"/>
<rect x="742" y="360" width="2" height="2"/>
<rect x="738" y="360" width="2" height="2"/>
<rect x="740" y="371" width="2" height="2"/>
<rect x="740" y="352" width="2" height="2"/>
<rect x="739" y="363" width="2" height="2"/>
<rect x="739" y="360" width="2" height="2"/>
<rect x="741" y="370" width="2" height="2"/>
<rect x="738" y="364" width="2" height="2"/>
<rect x="740" y="356" width="2" height="2"/>
<rect x="740" y="371" width="2" height="2"/>
<rect x="741" y="370" width="2" height="2"/>
<rect x="739" y="354" width="2" height="2"/>
<rect x="740" y="353" width="2" height="2"/>
<rect x="739" y="360" width="2" height="2"/>
<rect x="738" y="352" width="2" height="2"/>
<rect x="738" y="353" width="2" height="2"/>
<rect x="739" y="357" width="2" height="2"/>
<rect x="741" y="356" width="2" height="2"/>
<rect x="746" y="276" width="2" height="2"/>
<rect x="746" y="290" width="2" height="2"/>
<rect x="745" y="294" width="2" height="2"/>
<rect x="744" y="304" width="2" height="2"/>
<rect x="746" y="304" width="2" height="2"/>
<rect x="729" y="294" width="2" height="2"/>
<rect x="759" y="308" width="2" height="2"/>
<rect x="753" y="312" width="2" height="2"/>
<rect x="748" y="314" width="2" height="2"/>
<rect x="754" y="326" width="2" height="2"/>
<rect x="727" y="380" width="2" height="2"/>
<rect x="740" y="384" width="2" height="2"/>
<rect x="759" y="349" width="2" height="2"/>
<rect x="760" y="349" width="2" height="2"/>
<rect x="762" y="349" width="2" height="2"/>
<rect x="750" y="355" width="2" height="2"/>
<rect x="738" y="378" width="2" height="2"/>
<rect x="749" y="385" width="2" height="2"/>
<rect x="750" y="385" width="2" height="2"/>
<rect x="751" y="385" width="2" height="2"/>
<rect x="752" y="385" width="2" height="2"/>
<rect x="753" y="385" width="2" height="2"/>
<rect x="755" y="385" width="2" height="2"/>
<rect x="756" y="385" width="2" height="2"/>
<rect x="757" y="385" width="2" height="2"/>
<rect x="758" y="385" width="2" height="2"/>
<rect x="760" y="385" width="2" height="2"/>
<rect x="761" y="385" width="2" height="2"/>
<rect x="762" y="385" width="2" height="2"/>
<rect x="749" y="381" width="2" height="2"/>
<rect x="750" y="381" width="2" height="2"/>
<rect x="751" y="381" width="2" height="2"/>
<rect x="753" y="381" width="2" height="2"/>
<rect x="754" y="381" width="2" height="2"/>
<rect x="755" y="381" width="2" height="2"/>
<rect x="756" y="381" width="2" height="2"/>
<rect x="757" y="381" width="2" height="2"/>
<rect x="758" y="381" width="2" height="2"/>
<rect x="759" y="381" width="2" height="2"/>
<rect x="761" y="381" width="2" height="2"/>
<rect x="762" y="381" width="2" height="2"/>
<rect x="749" y="376" width="2" height="2"/>
<rect x="750" y="376" width="2" height="2"/>
<rect x="751" y="376" width="2" height="2"/>
<rect x="752" y="376" width="2" height="2"/>
<rect x="754" y="376" width="2" height="2"/>
<rect x="755" y="376" width="2" height="2"/>
<rect x="757" y="376" width="2" height="2"/>
<rect x="758" y="376" width="2" height="2"/>
<rect x="761" y="376" width="2" height="2"/>
<rect x="762" y="376" width="2" height="2"/>
<rect x="749" y="372" width="2" height="2"/>
<rect x="750" y="372" width="2" height="2"/>
<rect x="752" y="372" width="2" height="2"/>
<rect x="754" y="372" width="2" height="2"/>
<rect x="755" y="372" width="2" height="2"/>
<rect x="757" y="372" width="2" height="2"/>
<rect x="759" y="372" width="2" height="2"/>
<rect x="761" y="372" width="2" height="2"/>
<rect x="762" y="372" width="2" height="2"/>
<rect x="751" y="367" width="2" height="2"/>
<rect x="759" y="367" width="2" height="2"/>
<rect x="754" y="363" width="2" height="2"/>
<rect x="759" y="363" width="2" height="2"/>
<rect x="753" y="359" width="2" height="2"/>
<rect x="759" y="359" width="2" height="2"/>
<rect x="756" y="354" width="2" height="2"/>
<rect x="799" y="325" width="2" height="2"/>
<rect x="799" y="320" width="2" height="2"/>
<rect x="800" y="321" width="2" height="2"/>
<rect x="799" y="323" width="2" height="2"/>
<rect x="799" y="319" width="2" height="2"/>
<rect x="798" y="324" width="2" height="2"/>
<rect x="799" y="326" width="2" height="2"/>
<rect x="798" y="319" width="2" height="2"/>
<rect x="799" y="329" width="2" height="2"/>
<rect x="800" y="327" width="2" height="2"/>
<rect x="800" y="327" width="2" height="2"/>
<rect x="799" y="328" width="2" height="2"/>
<rect x="800" y="327" width="2" height="2"/>
<rect x="799" y="322" width="2" height="2"/>
<rect x="799" y="328" width="2" height="2"/>
<rect x="798" y="322" width="2" height="2"/>
<rect x="799" y="319" width="2" height="2"/>
<rect x="799" y="327" width="2" height="2"/>
<rect x="800" y="320" width="2" height="2"/>
<rect x="799" y="320" width="2" height="2"/>
<rect x="797" y="326" width="2" height="2"/>
<rect x="800" y="319" width="2" height="2"/>
<rect x="800" y="326" width="2" height="2"/>
<rect x="796" y="355" width="2" height="2"/>
<rect x="798" y="351" width="2" height="2"/>
<rect x="797" y="353" width="2" height="2"/>
<rect x="796" y="353" width="2" height="2"/>
<rect x="797" y="336" width="2" height="2"/>
<rect x="798" y="345" width="2" height="2"/>
<rect x="797" y="345" width="2" height="2"/>
<rect x="797" y="348" width="2" height="2"/>
<rect x="797" y="348" width="2" height="2"/>
<rect x="798" y="348" width="2" height="2"/>
<rect x="797" y="348" width="2" height="2"/>
<rect x="797" y="349" width="2" height="2"/>
<rect x="812" y="359" width="2" height="2"/>
<rect x="812" y="363" width="2" height="2"/>
<rect x="809" y="353" width="2" height="2"/>
<rect x="808" y="360" width="2" height="2"/>
<rect x="812" y="350" width="2" height="2"/>
<rect x="807" y="317" width="2" height="2"/>
<rect x="812" y="341" width="2" height="2"/>
<rect x="810" y="357" width="2" height="2"/>
<rect x="807" y="348" width="2" height="2"/>
<rect x="809" y="353" width="2" height="2"/>
<rect x="809" y="322" width="2" height="2"/>
<rect x="813" y="327" width="2" height="2"/>
<rect x="811" y="355" width="2" height="2"/>
<rect x="807" y="348" width="2" height="2"/>
<rect x="808" y="324" width="2" height="2"/>
<rect x="807" y="362" width="2" height="2"/>
<rect x="808" y="339" width="2" height="2"/>
<rect x="809" y="313" width="2" height="2"/>
<rect x="811" y="351" width="2" height="2"/>
<rect x="812" y="331" width="2" height="2"/>
<rect x="811" y="332" width="2" height="2"/>
<rect x="811" y="327" width="2" height="2"/>
<rect x="810" y="331" width="2" height="2"/>
<rect x="810" y="330" width="2" height="2"/>
<rect x="811" y="329" width="2" height="2"/>
<rect x="811" y="328" width="2" height="2"/>
<rect x="811" y="329" width="2" height="2"/>
<rect x="811" y="333" width="2" height="2"/>
<rect x="810" y="330" width="2" height="2"/>
<rect x="811" y="329" width="2" height="2"/>
<rect x="811" y="330" width="2" height="2"/>
<rect x="808" y="353" width="2" height="2"/>
<rect x="809" y="352" width="2" height="2"/>
<rect x="807" y="353" width="2" height="2"/>
<rect x="809" y="361" width="2" height="2"/>
<rect x="808" y="363" width="2" height="2"/>
<rect x="808" y="350" width="2" height="2"/>
<rect x="808" y="352" width="2" height="2"/>
<rect x="808" y="358" width="2" height="2"/>
<rect x="807" y="358" width="2" height="2"/>
<rect x="808" y="358" width="2" height="2"/>
<rect x="809" y="353" width="2" height="2"/>
<rect x="808" y="358" width="2" height="2"/>
<rect x="807" y="355" width="2" height="2"/>
<rect x="807" y="357" width="2" height="2"/>
<rect x="810" y="312" width="2" height="2"/>
<rect x="812" y="313" width="2" height="2"/>
<rect x="799" y="371" width="2" height="2"/>
<rect x="807" y="371" width="2" height="2"/>
<rect x="801" y="385" width="2" height="2"/>
<rect x="809" y="387" width="2" height="2"/>
<rect x="798" y="387" width="2" height="2"/>
<rect x="809" y="388" width="2" height="2"/>
<rect x="796" y="356" width="2" height="2"/>
<rect x="843" y="316" width="2" height="2"/>
<rect x="844" y="336" width="2" height="2"/>
<rect x="844" y="338" width="2" height="2"/>
<rect x="842" y="340" width="2" height="2"/>
<rect x="843" y="329" width="2" height="2"/>
<rect x="844" y="328" width="2" height="2"/>
<rect x="844" y="327" width="2" height="2"/>
<rect x="845" y="329" width="2" height="2"/>
<rect x="843" y="327" width="2" height="2"/>
<rect x="844" y="332" width="2" height="2"/>
<rect x="843" y="332" width="2" height="2"/>
<rect x="844" y="331" width="2" height="2"/>
<rect x="843" y="326" width="2" height="2"/>
<rect x="843" y="328" width="2" height="2"/>
<rect x="843" y="325" width="2" height="2"/>
<rect x="844" y="330" width="2" height="2"/>
<rect x="844" y="327" width="2" height="2"/>
<rect x="844" y="324" width="2" height="2"/>
<rect x="845" y="357" width="2" height="2"/>
<rect x="845" y="357" width="2" height="2"/>
<rect x="845" y="361" width="2" height="2"/>
<rect x="845" y="358" width="2" height="2"/>
<rect x="846" y="359" width="2" height="2"/>
<rect x="847" y="366" width="2" height="2"/>
<rect x="845" y="356" width="2" height="2"/>
<rect x="845" y="358" width="2" height="2"/>
<rect x="845" y="365" width="2" height="2"/>
<rect x="847" y="371" width="2" height="2"/>
<rect x="845" y="353" width="2" height="2"/>
<rect x="847" y="360" width="2" height="2"/>
<rect x="847" y="359" width="2" height="2"/>
<rect x="845" y="353" width="2" height="2"/>
<rect x="847" y="362" width="2" height="2"/>
<rect x="846" y="360" width="2" height="2"/>
<rect x="842" y="376" width="2" height="2"/>
<rect x="847" y="383" width="2" height="2"/>
<rect x="845" y="388" width="2" height="2"/>
<rect x="859" y="273" width="2" height="2"/>
<rect x="863" y="304" width="2" height="2"/>
<rect x="863" y="313" width="2" height="2"/>
<rect x="862" y="321" width="2" height="2"/>
<rect x="859" y="325" width="2" height="2"/>
<rect x="864" y="325" width="2" height="2"/>
<rect x="865" y="325" width="2" height="2"/>
<rect x="855" y="325" width="2" height="2"/>
<rect x="856" y="328" width="2" height="2"/>
<rect x="861" y="330" width="2" height="2"/>
<rect x="862" y="336" width="2" height="2"/>
<rect x="864" y="336" width="2" height="2"/>
<rect x="865" y="336" width="2" height="2"/>
<rect x="866" y="336" width="2" height="2"/>
<rect x="856" y="344" width="2" height="2"/>
<rect x="857" y="344" width="2" height="2"/>
<rect x="858" y="344" width="2" height="2"/>
<rect x="862" y="344" width="2" height="2"/>
<rect x="863" y="344" width="2" height="2"/>
<rect x="864" y="344" width="2" height="2"/>
<rect x="865" y="344" width="2" height="2"/>
<rect x="866" y="344" width="2" height="2"/>
<rect x="868" y="344" width="2" height="2"/>
<rect x="868" y="344" width="2" height="2"/>
<rect x="856" y="347" width="2" height="2"/>
<rect x="857" y="347" width="2" height="2"/>
<rect x="858" y="347" width="2" height="2"/>
<rect x="860" y="347" width="2" height="2"/>
<rect x="861" y="347" width="2" height="2"/>
<rect x="863" y="347" width="2" height="2"/>
<rect x="864" y="347" width="2" height="2"/>
<rect x="865" y="347" width="2" height="2"/>
<rect x="866" y="347" width="2" height="2"/>
<rect x="868" y="347" width="2" height="2"/>
<rect x="868" y="347" width="2" height="2"/>
<rect x="857" y="349" width="2" height="2"/>
<rect x="858" y="349" width="2" height="2"/>
<rect x="860" y="349" width="2" height="2"/>
<rect x="861" y="349" width="2" height="2"/>
<rect x="863" y="349" width="2" height="2"/>
<rect x="864" y="349" width="2" height="2"/>
<rect x="865" y="349" width="2" height="2"/>
<rect x="867" y="349" width="2" height="2"/>
<rect x="862" y="359" width="2" height="2"/>
<rect x="858" y="358" width="2" height="2"/>
<rect x="869" y="356" width="2" height="2"/>
<rect x="862" y="361" width="2" height="2"/>
<rect x="861" y="358" width="2" height="2"/>
<rect x="860" y="361" width="2" height="2"/>
<rect x="862" y="357" width="2" height="2"/>
<rect x="864" y="357" width="2" height="2"/>
<rect x="860" y="362" width="2" height="2"/>
<rect x="865" y="358" width="2" height="2"/>
<rect x="865" y="360" width="2" height="2"/>
<rect x="864" y="358" width="2" height="2"/>
<rect x="862" y="359" width="2" height="2"/>
<rect x="864" y="359" width="2" height="2"/>
<rect x="860" y="358" width="2" height="2"/>
<rect x="864" y="356" width="2" height="2"/>
<rect x="862" y="360" width="2" height="2"/>
<rect x="863" y="357" width="2" height="2"/>
<rect x="862" y="357" width="2" height="2"/>
<rect x="865" y="357" width="2" height="2"/>
<rect x="856" y="355" width="2" height="2"/>
<rect x="863" y="359" width="2" height="2"/>
<rect x="860" y="355" width="2" height="2"/>
<rect x="861" y="356" width="2" height="2"/>
<rect x="860" y="358" width="2" height="2"/>
<rect x="859" y="359" width="2" height="2"/>
<rect x="859" y="357" width="2" height="2"/>
<rect x="861" y="361" width="2" height="2"/>
<rect x="868" y="360" width="2" height="2"/>
<rect x="859" y="358" width="2" height="2"/>
<rect x="865" y="360" width="2" height="2"/>
<rect x="856" y="358" width="2" height="2"/>
<rect x="859" y="360" width="2" height="2"/>
<rect x="864" y="357" width="2" height="2"/>
<rect x="862" y="362" width="2" height="2"/>
<rect x="860" y="357" width="2" height="2"/>
<rect x="867" y="358" width="2" height="2"/>
<rect x="864" y="355" width="2" height="2"/>
<rect x="868" y="360" width="2" height="2"/>
<rect x="863" y="360" width="2" height="2"/>
<rect x="860" y="357" width="2" height="2"/>
<rect x="856" y="359" width="2" height="2"/>
<rect x="858" y="374" width="2" height="2"/>
<rect x="858" y="371" width="2" height="2"/>
<rect x="865" y="374" width="2" height="2"/>
<rect x="858" y="366" width="2" height="2"/>
<rect x="869" y="369" width="2" height="2"/>
<rect x="863" y="369" width="2" height="2"/>
<rect x="866" y="375" width="2" height="2"/>
<rect x="865" y="369" width="2" height="2"/>
<rect x="864" y="371" width="2" height="2"/>
<rect x="859" y="378" width="2" height="2"/>
<rect x="870" y="375" width="2" height="2"/>
<rect x="870" y="370" width="2" height="2"/>
<rect x="868" y="367" width="2" height="2"/>
<rect x="867" y="374" width="2" height="2"/>
<rect x="869" y="376" width="2" height="2"/>
<rect x="868" y="367" width="2" height="2"/>
<rect x="867" y="371" width="2" height="2"/>
<rect x="861" y="369" width="2" height="2"/>
<rect x="867" y="376" width="2" height="2"/>
<rect x="868" y="374" width="2" height="2"/>
<rect x="859" y="365" width="2" height="2"/>
<rect x="864" y="366" width="2" height="2"/>
<rect x="861" y="365" width="2" height="2"/>
<rect x="859" y="374" width="2" height="2"/>
<rect x="860" y="377" width="2" height="2"/>
<rect x="869" y="385" width="2" height="2"/>
<rect x="863" y="378" width="2" height="2"/>
<rect x="868" y="342" width="2" height="2"/>
<rect x="869" y="352" width="2" height="2"/>
</g>
<line x1="125.5" y1="323.2" x2="900.5" y2="358.4" stroke="#00ffff" stroke-width="1.4"/>
<path d="M138.5 391.5v-5.5M138.5 233.5v5.5M251.5 391.5v-5.5M251.5 233.5v5.5M365.5 391.5v-5.5M365.5 233.5v5.5M478.5 391.5v-5.5M478.5 233.5v5.5M592.5 391.5v-5.5M592.5 233.5v5.5M706.5 391.5v-5.5M706.5 233.5v5.5M819.5 391.5v-5.5M819.5 233.5v5.5M125.5 391.5h5.5M900.5 391.5h-5.5M125.5 365.5h5.5M900.5 365.5h-5.5M125.5 338.5h5.5M900.5 338.5h-5.5M125.5 312.5h5.5M900.5 312.5h-5.5M125.5 285.5h5.5M900.5 285.5h-5.5M125.5 259.5h5.5M900.5 259.5h-5.5" stroke="#000" stroke-width="0.69" fill="none"/>
<rect x="125.5" y="233.5" width="775.0" height="158.0" fill="none" stroke="#000" stroke-width="1.39"/>
<text x="120.7" y="395.7" font-size="12" text-anchor="end">0</text>
<text x="120.7" y="369.7" font-size="12" text-anchor="end">2</text>
<text x="120.7" y="342.7" font-size="12" text-anchor="end">4</text>
<text x="120.7" y="316.7" font-size="12" text-anchor="end">6</text>
<text x="120.7" y="289.7" font-size="12" text-anchor="end">8</text>
<text x="120.2" y="263.7" font-size="12" text-anchor="end">10</text>
<text transform="translate(97.3,313.2) rotate(-90)" font-size="11" text-anchor="middle">cnts/s</text>
<rect x="131.5" y="239.5" width="175.0" height="23.0" fill="#fff" stroke="#808080" stroke-width="1.39"/>
<g fill="#008000" fill-opacity="0.5"><rect x="139.0" y="249.0" width="2" height="2"/><rect x="157.0" y="249.0" width="2" height="2"/></g>
<text x="171.0" y="254.8" font-size="12.5">CCD6 Slope: -0.0781</text>
</g>
<g>
<g fill="#ff0000" fill-opacity="0.5" shape-rendering="crispEdges">
<rect x="193" y="520" width="2" height="2"/>
<rect x="195" y="506" width="2" height="2"/>
<rect x="202" y="505" width="2" height="2"/>
<rect x="199" y="502" width="2" height="2"/>
<rect x="200" y="513" width="2" height="2"/>
<rect x="197" y="514" width="2" height="2"/>
<rect x="204" y="504" width="2" height="2"/>
<rect x="202" y="505" width="2" height="2"/>
<rect x="192" y="500" width="2" height="2"/>
<rect x="196" y="517" width="2" height="2"/>
<rect x="190" y="496" width="2" height="2"/>
<rect x="200" y="496" width="2" height="2"/>
<rect x="200" y="499" width="2" height="2"/>
<rect x="194" y="485" width="2" height="2"/>
<rect x="200" y="498" width="2" height="2"/>
<rect x="198" y="494" width="2" height="2"/>
<rect x="197" y="493" width="2" height="2"/>
<rect x="197" y="509" width="2" height="2"/>
<rect x="201" y="499" width="2" height="2"/>
<rect x="195" y="498" width="2" height="2"/>
<rect x="201" y="510" width="2" height="2"/>
<rect x="189" y="515" width="2" height="2"/>
<rect x="197" y="491" width="2" height="2"/>
<rect x="192" y="504" width="2" height="2"/>
<rect x="195" y="517" width="2" height="2"/>
<rect x="196" y="506" width="2" height="2"/>
<rect x="190" y="510" width="2" height="2"/>
<rect x="199" y="491" width="2" height="2"/>
<rect x="194" y="510" width="2" height="2"/>
<rect x="192" y="501" width="2" height="2"/>
<rect x="201" y="512" width="2" height="2"/>
<rect x="202" y="512" width="2" height="2"/>
<rect x="197" y="499" width="2" height="2"/>
<rect x="196" y="520" width="2" height="2"/>
<rect x="196" y="519" width="2" height="2"/>
<rect x="196" y="490" width="2" height="2"/>
<rect x="202" y="497" width="2" height="2"/>
<rect x="196" y="504" width="2" height="2"/>
<rect x="195" y="485" width="2" height="2"/>
<rect x="193" y="491" width="2" height="2"/>
<rect x="200" y="505" width="2" height="2"/>
<rect x="196" y="499" width="2" height="2"/>
<rect x="197" y="517" width="2" height="2"/>
<rect x="191" y="503" width="2" height="2"/>
<rect x="202" y="499" width="2" height="2"/>
<rect x="191" y="504" width="2" height="2"/>
<rect x="199" y="514" width="2" height="2"/>
<rect x="197" y="505" width="2" height="2"/>
<rect x="198" y="520" width="2" height="2"/>
<rect x="197" y="502" width="2" height="2"/>
<rect x="198" y="511" width="2" height="2"/>
<rect x="200" y="516" width="2" height="2"/>
<rect x="199" y="491" width="2" height="2"/>
<rect x="199" y="496" width="2" height="2"/>
<rect x="197" y="497" width="2" height="2"/>
<rect x="193" y="491" width="2" height="2"/>
<rect x="199" y="490" width="2" height="2"/>
<rect x="193" y="488" width="2" height="2"/>
<rect x="198" y="519" width="2" height="2"/>
<rect x="198" y="497" width="2" height="2"/>
<rect x="200" y="515" width="2" height="2"/>
<rect x="199" y="509" width="2" height="2"/>
<rect x="198" y="498" width="2" height="2"/>
<rect x="200" y="500" width="2" height="2"/>
<rect x="201" y="513" width="2" height="2"/>
<rect x="192" y="489" width="2" height="2"/>
<rect x="200" y="508" width="2" height="2"/>
<rect x="194" y="487" width="2" height="2"/>
<rect x="199" y="513" width="2" height="2"/>
<rect x="196" y="496" width="2" height="2"/>
<rect x="199" y="493" width="2" height="2"/>
<rect x="200" y="496" width="2" height="2"/>
<rect x="198" y="497" width="2" height="2"/>
<rect x="191" y="505" width="2" height="2"/>
<rect x="199" y="505" width="2" height="2"/>
<rect x="200" y="498" width="2" height="2"/>
<rect x="195" y="485" width="2" height="2"/>
<rect x="192" y="503" width="2" height="2"/>
<rect x="202" y="494" width="2" height="2"/>
<rect x="200" y="502" width="2" height="2"/>
<rect x="199" y="495" width="2" height="2"/>
<rect x="198" y="491" width="2" height="2"/>
<rect x="197" y="520" width="2" height="2"/>
<rect x="198" y="520" width="2" height="2"/>
<rect x="199" y="504" width="2" height="2"/>
<rect x="192" y="495" width="2" height="2"/>
<rect x="196" y="509" width="2" height="2"/>
<rect x="194" y="498" width="2" height="2"/>
<rect x="195" y="516" width="2" height="2"/>
<rect x="192" y="497" width="2" height="2"/>
<rect x="192" y="517" width="2" height="2"/>
<rect x="194" y="501" width="2" height="2"/>
<rect x="194" y="517" width="2" height="2"/>
<rect x="196" y="491" width="2" height="2"/>
<rect x="197" y="504" width="2" height="2"/>
<rect x="192" y="516" width="2" height="2"/>
<rect x="200" y="509" width="2" height="2"/>
<rect x="202" y="508" width="2" height="2"/>
<rect x="193" y="497" width="2" height="2"/>
<rect x="191" y="476" width="2" height="2"/>
<rect x="195" y="478" width="2" height="2"/>
<rect x="203" y="478" width="2" height="2"/>
<rect x="197" y="482" width="2" height="2"/>
<rect x="200" y="482" width="2" height="2"/>
<rect x="191" y="485" width="2" height="2"/>
<rect x="202" y="486" width="2" height="2"/>
<rect x="202" y="488" width="2" height="2"/>
<rect x="192" y="460" width="2" height="2"/>
<rect x="197" y="460" width="2" height="2"/>
<rect x="194" y="468" width="2" height="2"/>
<rect x="202" y="474" width="2" height="2"/>
<rect x="198" y="530" width="2" height="2"/>
<rect x="201" y="483" width="2" height="2"/>
<rect x="194" y="485" width="2" height="2"/>
<rect x="191" y="520" width="2" height="2"/>
<rect x="194" y="523" width="2" height="2"/>
<rect x="196" y="524" width="2" height="2"/>
<rect x="200" y="521" width="2" height="2"/>
<rect x="178" y="538" width="2" height="2"/>
</g>
<g fill="#ff0000" fill-opacity="0.5" shape-rendering="crispEdges">
<rect x="184" y="481" width="2" height="2"/>
<rect x="184" y="478" width="2" height="2"/>
<rect x="182" y="478" width="2" height="2"/>
<rect x="184" y="477" width="2" height="2"/>
<rect x="181" y="478" width="2" height="2"/>
<rect x="181" y="479" width="2" height="2"/>
<rect x="187" y="479" width="2" height="2"/>
<rect x="179" y="479" width="2" height="2"/>
<rect x="185" y="481" width="2" height="2"/>
<rect x="184" y="484" width="2" height="2"/>
<rect x="186" y="480" width="2" height="2"/>
<rect x="186" y="477" width="2" height="2"/>
<rect x="183" y="478" width="2" height="2"/>
<rect x="183" y="484" width="2" height="2"/>
<rect x="182" y="484" width="2" height="2"/>
<rect x="180" y="483" width="2" height="2"/>
<rect x="178" y="478" width="2" height="2"/>
<rect x="186" y="480" width="2" height="2"/>
<rect x="183" y="480" width="2" height="2"/>
<rect x="183" y="480" width="2" height="2"/>
<rect x="180" y="479" width="2" height="2"/>
<rect x="183" y="478" width="2" height="2"/>
<rect x="184" y="484" width="2" height="2"/>
<rect x="179" y="479" width="2" height="2"/>
<rect x="182" y="480" width="2" height="2"/>
<rect x="183" y="478" width="2" height="2"/>
<rect x="183" y="480" width="2" height="2"/>
<rect x="183" y="483" width="2" height="2"/>
<rect x="183" y="477" width="2" height="2"/>
<rect x="179" y="481" width="2" height="2"/>
<rect x="182" y="479" width="2" height="2"/>
<rect x="179" y="479" width="2" height="2"/>
<rect x="183" y="478" width="2" height="2"/>
<rect x="182" y="482" width="2" height="2"/>
<rect x="185" y="481" width="2" height="2"/>
<rect x="183" y="477" width="2" height="2"/>
<rect x="185" y="483" width="2" height="2"/>
<rect x="186" y="483" width="2" height="2"/>
<rect x="184" y="481" width="2" height="2"/>
<rect x="183" y="483" width="2" height="2"/>
<rect x="182" y="485" width="2" height="2"/>
<rect x="185" y="479" width="2" height="2"/>
<rect x="183" y="476" width="2" height="2"/>
<rect x="181" y="479" width="2" height="2"/>
<rect x="190" y="478" width="2" height="2"/>
<rect x="185" y="480" width="2" height="2"/>
<rect x="182" y="481" width="2" height="2"/>
<rect x="178" y="482" width="2" height="2"/>
<rect x="188" y="481" width="2" height="2"/>
<rect x="183" y="480" width="2" height="2"/>
<rect x="185" y="479" width="2" height="2"/>
<rect x="183" y="481" width="2" height="2"/>
<rect x="182" y="481" width="2" height="2"/>
<rect x="184" y="482" width="2" height="2"/>
<rect x="180" y="479" width="2" height="2"/>
<rect x="182" y="483" width="2" height="2"/>
<rect x="184" y="476" width="2" height="2"/>
<rect x="180" y="484" width="2" height="2"/>
<rect x="184" y="477" width="2" height="2"/>
<rect x="181" y="480" width="2" height="2"/>
<rect x="187" y="484" width="2" height="2"/>
<rect x="182" y="479" width="2" height="2"/>
<rect x="188" y="478" width="2" height="2"/>
<rect x="187" y="481" width="2" height="2"/>
<rect x="183" y="483" width="2" height="2"/>
<rect x="184" y="478" width="2" height="2"/>
<rect x="179" y="480" width="2" height="2"/>
<rect x="184" y="483" width="2" height="2"/>
<rect x="185" y="483" width="2" height="2"/>
<rect x="185" y="480" width="2" height="2"/>
<rect x="184" y="481" width="2" height="2"/>
<rect x="181" y="480" width="2" height="2"/>
<rect x="183" y="479" width="2" height="2"/>
<rect x="179" y="477" width="2" height="2"/>
<rect x="184" y="481" width="2" height="2"/>
<rect x="183" y="477" width="2" height="2"/>
<rect x="185" y="479" width="2" height="2"/>
<rect x="177" y="483" width="2" height="2"/>
<rect x="179" y="485" width="2" height="2"/>
<rect x="184" y="479" width="2" height="2"/>
<rect x="187" y="483" width="2" height="2"/>
<rect x="184" y="476" width="2" height="2"/>
<rect x="182" y="479" width="2" height="2"/>
<rect x="184" y="480" width="2" height="2"/>
<rect x="184" y="476" width="2" height="2"/>
<rect x="181" y="483" width="2" height="2"/>
<rect x="179" y="482" width="2" height="2"/>
<rect x="189" y="481" width="2" height="2"/>
<rect x="179" y="483" width="2" height="2"/>
<rect x="178" y="481" width="2" height="2"/>
<rect x="182" y="483" width="2" height="2"/>
<rect x="186" y="480" width="2" height="2"/>
<rect x="188" y="482" width="2" height="2"/>
<rect x="182" y="478" width="2" height="2"/>
<rect x="190" y="479" width="2" height="2"/>
<rect x="184" y="480" width="2" height="2"/>
<rect x="182" y="476" width="2" height="2"/>
<rect x="183" y="480" width="2" height="2"/>
<rect x="186" y="479" width="2" height="2"/>
<rect x="179" y="478" width="2" height="2"/>
<rect x="183" y="481" width="2" height="2"/>
<rect x="185" y="479" width="2" height="2"/>
<rect x="219" y="487" width="2" height="2"/>
<rect x="218" y="488" width="2" height="2"/>
<rect x="213" y="486" width="2" height="2"/>
<rect x="222" y="488" width="2" height="2"/>
<rect x="221" y="490" width="2" height="2"/>
<rect x="219" y="488" width="2" height="2"/>
<rect x="218" y="490" width="2" height="2"/>
<rect x="218" y="484" width="2" height="2"/>
<rect x="210" y="487" width="2" height="2"/>
<rect x="213" y="486" width="2" height="2"/>
<rect x="219" y="487" width="2" height="2"/>
<rect x="216" y="487" width="2" height="2"/>
<rect x="219" y="480" width="2" height="2"/>
<rect x="215" y="494" width="2" height="2"/>
<rect x="213" y="483" width="2" height="2"/>
<rect x="219" y="480" width="2" height="2"/>
<rect x="216" y="487" width="2" height="2"/>
<rect x="212" y="481" width="2" height="2"/>
<rect x="219" y="482" width="2" height="2"/>
<rect x="211" y="486" width="2" height="2"/>
<rect x="212" y="489" width="2" height="2"/>
<rect x="213" y="490" width="2" height="2"/>
<rect x="219" y="486" width="2" height="2"/>
<rect x="213" y="489" width="2" height="2"/>
<rect x="218" y="486" width="2" height="2"/>
<rect x="215" y="492" width="2" height="2"/>
<rect x="220" y="483" width="2" height="2"/>
<rect x="214" y="480" width="2" height="2"/>
<rect x="218" y="492" width="2" height="2"/>
<rect x="220" y="490" width="2" height="2"/>
<rect x="215" y="488" width="2" height="2"/>
<rect x="220" y="488" width="2" height="2"/>
<rect x="220" y="481" width="2" height="2"/>
<rect x="213" y="486" width="2" height="2"/>
<rect x="216" y="484" width="2" height="2"/>
<rect x="212" y="485" width="2" height="2"/>
<rect x="217" y="494" width="2" height="2"/>
<rect x="218" y="485" width="2" height="2"/>
<rect x="212" y="489" width="2" height="2"/>
<rect x="217" y="487" width="2" height="2"/>
<rect x="215" y="491" width="2" height="2"/>
<rect x="216" y="494" width="2" height="2"/>
<rect x="216" y="490" width="2" height="2"/>
<rect x="218" y="490" width="2" height="2"/>
<rect x="214" y="490" width="2" height="2"/>
<rect x="213" y="485" width="2" height="2"/>
<rect x="212" y="492" width="2" height="2"/>
<rect x="211" y="486" width="2" height="2"/>
<rect x="218" y="493" width="2" height="2"/>
<rect x="212" y="488" width="2" height="2"/>
<rect x="214" y="492" width="2" height="2"/>
<rect x="216" y="482" width="2" height="2"/>
<rect x="216" y="493" width="2" height="2"/>
<rect x="216" y="491" width="2" height="2"/>
<rect x="217" y="478" width="2" height="2"/>
<rect x="216" y="484" width="2" height="2"/>
<rect x="216" y="491" width="2" height="2"/>
<rect x="215" y="488" width="2" height="2"/>
<rect x="216" y="488" width="2" height="2"/>
<rect x="217" y="483" width="2" height="2"/>
<rect x="219" y="484" width="2" height="2"/>
<rect x="217" y="478" width="2" height="2"/>
<rect x="218" y="492" width="2" height="2"/>
<rect x="215" y="499" width="2" height="2"/>
<rect x="211" y="503" width="2" height="2"/>
<rect x="216" y="512" width="2" height="2"/>
<rect x="212" y="522" width="2" height="2"/>
<rect x="219" y="523" width="2" height="2"/>
<rect x="221" y="532" width="2" height="2"/>
<rect x="213" y="498" width="2" height="2"/>
<rect x="220" y="498" width="2" height="2"/>
<rect x="249" y="481" width="2" height="2"/>
<rect x="245" y="481" width="2" height="2"/>
<rect x="246" y="481" width="2" height="2"/>
<rect x="243" y="477" width="2" height="2"/>
<rect x="244" y="480" width="2" height="2"/>
<rect x="246" y="479" width="2" height="2"/>
<rect x="246" y="482" width="2" height="2"/>
<rect x="243" y="480" width="2" height="2"/>
<rect x="242" y="479" width="2" height="2"/>
<rect x="248" y="478" width="2" height="2"/>
<rect x="250" y="481" width="2" height="2"/>
<rect x="248" y="480" width="2" height="2"/>
<rect x="248" y="483" width="2" height="2"/>
<rect x="246" y="479" width="2" height="2"/>
<rect x="244" y="485" width="2" height="2"/>
<rect x="245" y="479" width="2" height="2"/>
<rect x="244" y="476" width="2" height="2"/>
<rect x="244" y="481" width="2" height="2"/>
<rect x="244" y="478" width="2" height="2"/>
<rect x="247" y="481" width="2" height="2"/>
<rect x="244" y="481" width="2" height="2"/>
<rect x="243" y="482" width="2" height="2"/>
<rect x="243" y="479" width="2" height="2"/>
<rect x="246" y="479" width="2" height="2"/>
<rect x="243" y="485" width="2" height="2"/>
<rect x="249" y="476" width="2" height="2"/>
<rect x="246" y="477" width="2" height="2"/>
<rect x="246" y="477" width="2" height="2"/>
<rect x="247" y="481" width="2" height="2"/>
<rect x="250" y="483" width="2" height="2"/>
<rect x="244" y="482" width="2" height="2"/>
<rect x="244" y="480" width="2" height="2"/>
<rect x="244" y="476" width="2" height="2"/>
<rect x="247" y="475" width="2" height="2"/>
<rect x="245" y="481" width="2" height="2"/>
<rect x="246" y="476" width="2" height="2"/>
<rect x="244" y="482" width="2" height="2"/>
<rect x="248" y="484" width="2" height="2"/>
<rect x="241" y="481" width="2" height="2"/>
<rect x="244" y="482" width="2" height="2"/>
<rect x="241" y="480" width="2" height="2"/>
<rect x="247" y="478" width="2" height="2"/>
<rect x="245" y="478" width="2" height="2"/>
<rect x="248" y="477" width="2" height="2"/>
<rect x="243" y="479" width="2" height="2"/>
<rect x="245" y="485" width="2" height="2"/>
<rect x="246" y="478" width="2" height="2"/>
<rect x="247" y="481" width="2" height="2"/>
<rect x="246" y="480" width="2" height="2"/>
<rect x="247" y="477" width="2" height="2"/>
<rect x="242" y="479" width="2" height="2"/>
<rect x="243" y="482" width="2" height="2"/>
<rect x="250" y="483" width="2" height="2"/>
<rect x="247" y="481" width="2" height="2"/>
<rect x="244" y="477" width="2" height="2"/>
<rect x="247" y="477" width="2" height="2"/>
<rect x="246" y="480" width="2" height="2"/>
<rect x="247" y="480" width="2" height="2"/>
<rect x="246" y="479" width="2" height="2"/>
<rect x="241" y="479" width="2" height="2"/>
<rect x="247" y="482" width="2" height="2"/>
<rect x="249" y="478" width="2" height="2"/>
<rect x="243" y="482" width="2" height="2"/>
<rect x="244" y="486" width="2" height="2"/>
<rect x="246" y="476" width="2" height="2"/>
<rect x="244" y="484" width="2" height="2"/>
<rect x="241" y="480" width="2" height="2"/>
<rect x="242" y="484" width="2" height="2"/>
<rect x="244" y="478" width="2" height="2"/>
<rect x="241" y="478" width="2" height="2"/>
<rect x="251" y="480" width="2" height="2"/>
<rect x="245" y="477" width="2" height="2"/>
<rect x="246" y="479" width="2" height="2"/>
<rect x="243" y="483" width="2" height="2"/>
<rect x="247" y="478" width="2" height="2"/>
<rect x="249" y="480" width="2" height="2"/>
<rect x="247" y="480" width="2" height="2"/>
<rect x="248" y="481" width="2" height="2"/>
<rect x="239" y="486" width="2" height="2"/>
<rect x="241" y="481" width="2" height="2"/>
<rect x="238" y="488" width="2" height="2"/>
<rect x="237" y="490" width="2" height="2"/>
<rect x="237" y="491" width="2" height="2"/>
<rect x="240" y="483" width="2" height="2"/>
<rect x="238" y="484" width="2" height="2"/>
<rect x="238" y="491" width="2" height="2"/>
<rect x="240" y="484" width="2" height="2"/>
<rect x="239" y="482" width="2" height="2"/>
<rect x="237" y="489" width="2" height="2"/>
<rect x="239" y="483" width="2" height="2"/>
<rect x="239" y="502" width="2" height="2"/>
<rect x="240" y="516" width="2" height="2"/>
<rect x="247" y="511" width="2" height="2"/>
<rect x="239" y="539" width="2" height="2"/>
<rect x="247" y="540" width="2" height="2"/>
<rect x="251" y="542" width="2" height="2"/>
<rect x="237" y="553" width="2" height="2"/>
<rect x="261" y="479" width="2" height="2"/>
<rect x="259" y="482" width="2" height="2"/>
<rect x="263" y="482" width="2" height="2"/>
<rect x="260" y="481" width="2" height="2"/>
<rect x="263" y="478" width="2" height="2"/>
<rect x="263" y="478" width="2" height="2"/>
<rect x="260" y="482" width="2" height="2"/>
<rect x="261" y="485" width="2" height="2"/>
<rect x="262" y="481" width="2" height="2"/>
<rect x="263" y="482" width="2" height="2"/>
<rect x="260" y="484" width="2" height="2"/>
<rect x="264" y="484" width="2" height="2"/>
<rect x="259" y="486" width="2" height="2"/>
<rect x="260" y="483" width="2" height="2"/>
<rect x="263" y="487" width="2" height="2"/>
<rect x="258" y="479" width="2" height="2"/>
<rect x="263" y="483" width="2" height="2"/>
<rect x="262" y="481" width="2" height="2"/>
<rect x="261" y="482" width="2" height="2"/>
<rect x="262" y="481" width="2" height="2"/>
<rect x="259" y="481" width="2" height="2"/>
<rect x="257" y="479" width="2" height="2"/>
<rect x="265" y="480" width="2" height="2"/>
<rect x="261" y="486" width="2" height="2"/>
<rect x="263" y="482" width="2" height="2"/>
<rect x="262" y="481" width="2" height="2"/>
<rect x="259" y="484" width="2" height="2"/>
<rect x="261" y="485" width="2" height="2"/>
<rect x="261" y="481" width="2" height="2"/>
<rect x="262" y="481" width="2" height="2"/>
<rect x="260" y="480" width="2" height="2"/>
<rect x="261" y="482" width="2" height="2"/>
<rect x="264" y="481" width="2" height="2"/>
<rect x="258" y="483" width="2" height="2"/>
<rect x="265" y="481" width="2" height="2"/>
<rect x="260" y="481" width="2" height="2"/>
<rect x="261" y="478" width="2" height="2"/>
<rect x="262" y="480" width="2" height="2"/>
<rect x="258" y="480" width="2" height="2"/>
<rect x="262" y="486" width="2" height="2"/>
<rect x="263" y="482" width="2" height="2"/>
<rect x="260" y="481" width="2" height="2"/>
<rect x="263" y="480" width="2" height="2"/>
<rect x="262" y="484" width="2" height="2"/>
<rect x="259" y="480" width="2" height="2"/>
<rect x="271" y="491" width="2" height="2"/>
<rect x="269" y="489" width="2" height="2"/>
<rect x="269" y="497" width="2" height="2"/>
<rect x="273" y="485" width="2" height="2"/>
<rect x="270" y="491" width="2" height="2"/>
<rect x="270" y="486" width="2" height="2"/>
<rect x="269" y="491" width="2" height="2"/>
<rect x="268" y="492" width="2" height="2"/>
<rect x="270" y="492" width="2" height="2"/>
<rect x="269" y="489" width="2" height="2"/>
<rect x="270" y="494" width="2" height="2"/>
<rect x="272" y="490" width="2" height="2"/>
<rect x="268" y="494" width="2" height="2"/>
<rect x="271" y="494" width="2" height="2"/>
<rect x="269" y="487" width="2" height="2"/>
<rect x="270" y="488" width="2" height="2"/>
<rect x="272" y="494" width="2" height="2"/>
<rect x="273" y="494" width="2" height="2"/>
<rect x="268" y="487" width="2" height="2"/>
<rect x="272" y="494" width="2" height="2"/>
<rect x="270" y="486" width="2" height="2"/>
<rect x="266" y="491" width="2" height="2"/>
<rect x="267" y="488" width="2" height="2"/>
<rect x="271" y="494" width="2" height="2"/>
<rect x="264" y="488" width="2" height="2"/>
<rect x="273" y="490" width="2" height="2"/>
<rect x="269" y="493" width="2" height="2"/>
<rect x="267" y="486" width="2" height="2"/>
<rect x="270" y="496" width="2" height="2"/>
<rect x="272" y="490" width="2" height="2"/>
<rect x="272" y="489" width="2" height="2"/>
<rect x="266" y="485" width="2" height="2"/>
<rect x="270" y="494" width="2" height="2"/>
<rect x="270" y="490" width="2" height="2"/>
<rect x="268" y="494" width="2" height="2"/>
<rect x="269" y="485" width="2" height="2"/>
<rect x="273" y="488" width="2" height="2"/>
<rect x="271" y="491" width="2" height="2"/>
<rect x="272" y="491" width="2" height="2"/>
<rect x="273" y="491" width="2" height="2"/>
<rect x="268" y="489" width="2" height="2"/>
<rect x="271" y="488" width="2" height="2"/>
<rect x="272" y="490" width="2" height="2"/>
<rect x="267" y="487" width="2" height="2"/>
<rect x="269" y="497" width="2" height="2"/>
<rect x="271" y="491" width="2" height="2"/>
<rect x="267" y="497" width="2" height="2"/>
<rect x="269" y="490" width="2" height="2"/>
<rect x="268" y="495" width="2" height="2"/>
<rect x="270" y="489" width="2" height="2"/>
<rect x="270" y="487" width="2" height="2"/>
<rect x="267" y="490" width="2" height="2"/>
<rect x="275" y="487" width="2" height="2"/>
<rect x="269" y="485" width="2" height="2"/>
<rect x="270" y="491" width="2" height="2"/>
<rect x="271" y="486" width="2" height="2"/>
<rect x="268" y="488" width="2" height="2"/>
<rect x="279" y="485" width="2" height="2"/>
<rect x="279" y="488" width="2" height="2"/>
<rect x="282" y="481" width="2" height="2"/>
<rect x="281" y="485" width="2" height="2"/>
<rect x="281" y="489" width="2" height="2"/>
<rect x="281" y="479" width="2" height="2"/>
<rect x="280" y="483" width="2" height="2"/>
<rect x="280" y="485" width="2" height="2"/>
<rect x="281" y="480" width="2" height="2"/>
<rect x="279" y="485" width="2" height="2"/>
<rect x="280" y="484" width="2" height="2"/>
<rect x="280" y="485" width="2" height="2"/>
<rect x="281" y="485" width="2" height="2"/>
<rect x="280" y="479" width="2" height="2"/>
<rect x="280" y="485" width="2" height="2"/>
<rect x="280" y="483" width="2" height="2"/>
<rect x="279" y="488" width="2" height="2"/>
<rect x="280" y="485" width="2" height="2"/>
<rect x="279" y="486" width="2" height="2"/>
<rect x="281" y="485" width="2" height="2"/>
<rect x="279" y="481" width="2" height="2"/>
<rect x="280" y="482" width="2" height="2"/>
<rect x="278" y="488" width="2" height="2"/>
<rect x="279" y="491" width="2" height="2"/>
<rect x="279" y="481" width="2" height="2"/>
<rect x="278" y="487" width="2" height="2"/>
<rect x="280" y="486" width="2" height="2"/>
<rect x="279" y="487" width="2" height="2"/>
<rect x="282" y="487" width="2" height="2"/>
<rect x="279" y="480" width="2" height="2"/>
<rect x="280" y="490" width="2" height="2"/>
<rect x="280" y="481" width="2" height="2"/>
<rect x="280" y="489" width="2" height="2"/>
<rect x="279" y="487" width="2" height="2"/>
<rect x="281" y="490" width="2" height="2"/>
<rect x="277" y="479" width="2" height="2"/>
<rect x="280" y="487" width="2" height="2"/>
<rect x="279" y="485" width="2" height="2"/>
<rect x="279" y="489" width="2" height="2"/>
<rect x="278" y="483" width="2" height="2"/>
<rect x="277" y="482" width="2" height="2"/>
<rect x="280" y="485" width="2" height="2"/>
<rect x="282" y="484" width="2" height="2"/>
<rect x="280" y="486" width="2" height="2"/>
<rect x="280" y="490" width="2" height="2"/>
<rect x="279" y="505" width="2" height="2"/>
<rect x="258" y="519" width="2" height="2"/>
<rect x="267" y="521" width="2" height="2"/>
<rect x="264" y="526" width="2" height="2"/>
<rect x="271" y="528" width="2" height="2"/>
<rect x="269" y="531" width="2" height="2"/>
<rect x="260" y="533" width="2" height="2"/>
<rect x="262" y="537" width="2" height="2"/>
<rect x="261" y="540" width="2" height="2"/>
<rect x="274" y="543" width="2" height="2"/>
<rect x="271" y="546" width="2" height="2"/>
<rect x="260" y="548" width="2" height="2"/>
<rect x="265" y="556" width="2" height="2"/>
<rect x="268" y="557" width="2" height="2"/>
<rect x="275" y="559" width="2" height="2"/>
<rect x="266" y="500" width="2" height="2"/>
<rect x="274" y="497" width="2" height="2"/>
<rect x="278" y="496" width="2" height="2"/>
<rect x="276" y="531" width="2" height="2"/>
<rect x="276" y="531" width="2" height="2"/>
<rect x="276" y="533" width="2" height="2"/>
<rect x="276" y="531" width="2" height="2"/>
<rect x="276" y="532" width="2" height="2"/>
<rect x="276" y="532" width="2" height="2"/>
<rect x="275" y="532" width="2" height="2"/>
<rect x="278" y="531" width="2" height="2"/>
<rect x="276" y="529" width="2" height="2"/>
<rect x="277" y="531" width="2" height="2"/>
<rect x="277" y="530" width="2" height="2"/>
<rect x="276" y="534" width="2" height="2"/>
<rect x="276" y="530" width="2" height="2"/>
<rect x="275" y="531" width="2" height="2"/>
<rect x="277" y="532" width="2" height="2"/>
<rect x="275" y="529" width="2" height="2"/>
<rect x="275" y="529" width="2" height="2"/>
<rect x="276" y="531" width="2" height="2"/>
<rect x="278" y="531" width="2" height="2"/>
<rect x="277" y="528" width="2" height="2"/>
<rect x="303" y="475" width="2" height="2"/>
<rect x="302" y="477" width="2" height="2"/>
<rect x="304" y="477" width="2" height="2"/>
<rect x="305" y="482" width="2" height="2"/>
<rect x="305" y="479" width="2" height="2"/>
<rect x="303" y="478" width="2" height="2"/>
<rect x="301" y="481" width="2" height="2"/>
<rect x="301" y="479" width="2" height="2"/>
<rect x="301" y="482" width="2" height="2"/>
<rect x="302" y="476" width="2" height="2"/>
<rect x="303" y="481" width="2" height="2"/>
<rect x="304" y="480" width="2" height="2"/>
<rect x="301" y="482" width="2" height="2"/>
<rect x="301" y="480" width="2" height="2"/>
<rect x="301" y="477" width="2" height="2"/>
<rect x="302" y="475" width="2" height="2"/>
<rect x="304" y="482" width="2" height="2"/>
<rect x="302" y="475" width="2" height="2"/>
<rect x="303" y="480" width="2" height="2"/>
<rect x="302" y="474" width="2" height="2"/>
<rect x="303" y="480" width="2" height="2"/>
<rect x="303" y="475" width="2" height="2"/>
<rect x="303" y="477" width="2" height="2"/>
<rect x="302" y="480" width="2" height="2"/>
<rect x="302" y="483" width="2" height="2"/>
<rect x="303" y="479" width="2" height="2"/>
<rect x="306" y="482" width="2" height="2"/>
<rect x="303" y="482" width="2" height="2"/>
<rect x="303" y="481" width="2" height="2"/>
<rect x="306" y="483" width="2" height="2"/>
<rect x="301" y="482" width="2" height="2"/>
<rect x="302" y="480" width="2" height="2"/>
<rect x="304" y="477" width="2" height="2"/>
<rect x="303" y="477" width="2" height="2"/>
<rect x="302" y="480" width="2" height="2"/>
<rect x="304" y="481" width="2" height="2"/>
<rect x="300" y="505" width="2" height="2"/>
<rect x="304" y="521" width="2" height="2"/>
<rect x="300" y="545" width="2" height="2"/>
<rect x="305" y="559" width="2" height="2"/>
<rect x="308" y="539" width="2" height="2"/>
<rect x="306" y="539" width="2" height="2"/>
<rect x="309" y="539" width="2" height="2"/>
<rect x="307" y="540" width="2" height="2"/>
<rect x="305" y="540" width="2" height="2"/>
<rect x="307" y="540" width="2" height="2"/>
<rect x="307" y="540" width="2" height="2"/>
<rect x="308" y="540" width="2" height="2"/>
<rect x="306" y="540" width="2" height="2"/>
<rect x="306" y="539" width="2" height="2"/>
<rect x="308" y="540" width="2" height="2"/>
<rect x="307" y="540" width="2" height="2"/>
<rect x="306" y="541" width="2" height="2"/>
<rect x="304" y="540" width="2" height="2"/>
<rect x="308" y="540" width="2" height="2"/>
<rect x="308" y="540" width="2" height="2"/>
<rect x="306" y="540" width="2" height="2"/>
<rect x="309" y="539" width="2" height="2"/>
<rect x="306" y="539" width="2" height="2"/>
<rect x="308" y="539" width="2" height="2"/>
<rect x="305" y="539" width="2" height="2"/>
<rect x="310" y="540" width="2" height="2"/>
<rect x="306" y="540" width="2" height="2"/>
<rect x="307" y="541" width="2" height="2"/>
<rect x="306" y="540" width="2" height="2"/>
<rect x="308" y="539" width="2" height="2"/>
<rect x="307" y="541" width="2" height="2"/>
<rect x="308" y="539" width="2" height="2"/>
<rect x="308" y="541" width="2" height="2"/>
<rect x="309" y="540" width="2" height="2"/>
<rect x="310" y="544" width="2" height="2"/>
<rect x="322" y="472" width="2" height="2"/>
<rect x="324" y="476" width="2" height="2"/>
<rect x="324" y="477" width="2" height="2"/>
<rect x="321" y="483" width="2" height="2"/>
<rect x="317" y="478" width="2" height="2"/>
<rect x="319" y="484" width="2" height="2"/>
<rect x="319" y="472" width="2" height="2"/>
<rect x="327" y="479" width="2" height="2"/>
<rect x="323" y="486" width="2" height="2"/>
<rect x="317" y="478" width="2" height="2"/>
<rect x="319" y="475" width="2" height="2"/>
<rect x="327" y="477" width="2" height="2"/>
<rect x="318" y="487" width="2" height="2"/>
<rect x="320" y="479" width="2" height="2"/>
<rect x="325" y="477" width="2" height="2"/>
<rect x="316" y="481" width="2" height="2"/>
<rect x="321" y="481" width="2" height="2"/>
<rect x="322" y="474" width="2" height="2"/>
<rect x="323" y="478" width="2" height="2"/>
<rect x="325" y="484" width="2" height="2"/>
<rect x="320" y="479" width="2" height="2"/>
<rect x="324" y="486" width="2" height="2"/>
<rect x="324" y="474" width="2" height="2"/>
<rect x="322" y="481" width="2" height="2"/>
<rect x="328" y="480" width="2" height="2"/>
<rect x="323" y="474" width="2" height="2"/>
<rect x="324" y="485" width="2" height="2"/>
<rect x="317" y="474" width="2" height="2"/>
<rect x="324" y="482" width="2" height="2"/>
<rect x="326" y="486" width="2" height="2"/>
<rect x="320" y="480" width="2" height="2"/>
<rect x="322" y="474" width="2" height="2"/>
<rect x="321" y="479" width="2" height="2"/>
<rect x="321" y="476" width="2" height="2"/>
<rect x="317" y="478" width="2" height="2"/>
<rect x="316" y="485" width="2" height="2"/>
<rect x="319" y="477" width="2" height="2"/>
<rect x="317" y="483" width="2" height="2"/>
<rect x="320" y="487" width="2" height="2"/>
<rect x="319" y="478" width="2" height="2"/>
<rect x="318" y="479" width="2" height="2"/>
<rect x="320" y="483" width="2" height="2"/>
<rect x="325" y="480" width="2" height="2"/>
<rect x="326" y="482" width="2" height="2"/>
<rect x="317" y="485" width="2" height="2"/>
<rect x="322" y="472" width="2" height="2"/>
<rect x="323" y="486" width="2" height="2"/>
<rect x="314" y="476" width="2" height="2"/>
<rect x="317" y="484" width="2" height="2"/>
<rect x="326" y="478" width="2" height="2"/>
<rect x="321" y="489" width="2" height="2"/>
<rect x="326" y="477" width="2" height="2"/>
<rect x="319" y="472" width="2" height="2"/>
<rect x="326" y="481" width="2" height="2"/>
<rect x="324" y="481" width="2" height="2"/>
<rect x="325" y="488" width="2" height="2"/>
<rect x="319" y="474" width="2" height="2"/>
<rect x="324" y="477" width="2" height="2"/>
<rect x="322" y="481" width="2" height="2"/>
<rect x="326" y="478" width="2" height="2"/>
<rect x="318" y="479" width="2" height="2"/>
<rect x="319" y="480" width="2" height="2"/>
<rect x="327" y="477" width="2" height="2"/>
<rect x="315" y="478" width="2" height="2"/>
<rect x="322" y="477" width="2" height="2"/>
<rect x="324" y="478" width="2" height="2"/>
<rect x="320" y="475" width="2" height="2"/>
<rect x="321" y="477" width="2" height="2"/>
<rect x="320" y="481" width="2" height="2"/>
<rect x="320" y="491" width="2" height="2"/>
<rect x="315" y="482" width="2" height="2"/>
<rect x="318" y="473" width="2" height="2"/>
<rect x="318" y="480" width="2" height="2"/>
<rect x="318" y="490" width="2" height="2"/>
<rect x="319" y="475" width="2" height="2"/>
<rect x="328" y="483" width="2" height="2"/>
<rect x="326" y="478" width="2" height="2"/>
<rect x="319" y="489" width="2" height="2"/>
<rect x="321" y="474" width="2" height="2"/>
<rect x="321" y="472" width="2" height="2"/>
<rect x="321" y="482" width="2" height="2"/>
<rect x="317" y="481" width="2" height="2"/>
<rect x="317" y="488" width="2" height="2"/>
<rect x="320" y="485" width="2" height="2"/>
<rect x="327" y="477" width="2" height="2"/>
<rect x="319" y="481" width="2" height="2"/>
<rect x="315" y="480" width="2" height="2"/>
<rect x="322" y="492" width="2" height="2"/>
<rect x="323" y="478" width="2" height="2"/>
<rect x="317" y="485" width="2" height="2"/>
<rect x="325" y="474" width="2" height="2"/>
<rect x="322" y="472" width="2" height="2"/>
<rect x="325" y="486" width="2" height="2"/>
<rect x="323" y="480" width="2" height="2"/>
<rect x="317" y="479" width="2" height="2"/>
<rect x="327" y="477" width="2" height="2"/>
<rect x="315" y="460" width="2" height="2"/>
<rect x="324" y="460" width="2" height="2"/>
<rect x="322" y="464" width="2" height="2"/>
<rect x="317" y="465" width="2" height="2"/>
<rect x="326" y="466" width="2" height="2"/>
<rect x="327" y="503" width="2" height="2"/>
<rect x="314" y="508" width="2" height="2"/>
<rect x="327" y="545" width="2" height="2"/>
<rect x="318" y="494" width="2" height="2"/>
<rect x="323" y="494" width="2" height="2"/>
<rect x="361" y="472" width="2" height="2"/>
<rect x="359" y="475" width="2" height="2"/>
<rect x="359" y="482" width="2" height="2"/>
<rect x="362" y="478" width="2" height="2"/>
<rect x="363" y="481" width="2" height="2"/>
<rect x="361" y="474" width="2" height="2"/>
<rect x="357" y="480" width="2" height="2"/>
<rect x="360" y="478" width="2" height="2"/>
<rect x="363" y="475" width="2" height="2"/>
<rect x="363" y="482" width="2" height="2"/>
<rect x="360" y="480" width="2" height="2"/>
<rect x="358" y="479" width="2" height="2"/>
<rect x="360" y="483" width="2" height="2"/>
<rect x="359" y="476" width="2" height="2"/>
<rect x="360" y="474" width="2" height="2"/>
<rect x="358" y="479" width="2" height="2"/>
<rect x="359" y="474" width="2" height="2"/>
<rect x="358" y="478" width="2" height="2"/>
<rect x="360" y="478" width="2" height="2"/>
<rect x="361" y="479" width="2" height="2"/>
<rect x="362" y="476" width="2" height="2"/>
<rect x="362" y="481" width="2" height="2"/>
<rect x="361" y="474" width="2" height="2"/>
<rect x="360" y="475" width="2" height="2"/>
<rect x="362" y="476" width="2" height="2"/>
<rect x="360" y="473" width="2" height="2"/>
<rect x="359" y="478" width="2" height="2"/>
<rect x="361" y="473" width="2" height="2"/>
<rect x="363" y="473" width="2" height="2"/>
<rect x="363" y="481" width="2" height="2"/>
<rect x="359" y="475" width="2" height="2"/>
<rect x="360" y="478" width="2" height="2"/>
<rect x="358" y="476" width="2" height="2"/>
<rect x="360" y="484" width="2" height="2"/>
<rect x="359" y="477" width="2" height="2"/>
<rect x="358" y="477" width="2" height="2"/>
<rect x="360" y="483" width="2" height="2"/>
<rect x="361" y="477" width="2" height="2"/>
<rect x="363" y="480" width="2" height="2"/>
<rect x="358" y="476" width="2" height="2"/>
<rect x="362" y="475" width="2" height="2"/>
<rect x="362" y="482" width="2" height="2"/>
<rect x="359" y="475" width="2" height="2"/>
<rect x="360" y="475" width="2" height="2"/>
<rect x="361" y="477" width="2" height="2"/>
<rect x="363" y="477" width="2" height="2"/>
<rect x="363" y="476" width="2" height="2"/>
<rect x="362" y="475" width="2" height="2"/>
<rect x="363" y="481" width="2" height="2"/>
<rect x="361" y="481" width="2" height="2"/>
<rect x="362" y="476" width="2" height="2"/>
<rect x="363" y="473" width="2" height="2"/>
<rect x="362" y="482" width="2" height="2"/>
<rect x="358" y="481" width="2" height="2"/>
<rect x="360" y="475" width="2" height="2"/>
<rect x="359" y="474" width="2" height="2"/>
<rect x="364" y="479" width="2" height="2"/>
<rect x="375" y="478" width="2" height="2"/>
<rect x="369" y="470" width="2" height="2"/>
<rect x="363" y="472" width="2" height="2"/>
<rect x="366" y="475" width="2" height="2"/>
<rect x="368" y="467" width="2" height="2"/>
<rect x="369" y="476" width="2" height="2"/>
<rect x="374" y="471" width="2" height="2"/>
<rect x="371" y="470" width="2" height="2"/>
<rect x="367" y="477" width="2" height="2"/>
<rect x="367" y="480" width="2" height="2"/>
<rect x="370" y="478" width="2" height="2"/>
<rect x="370" y="471" width="2" height="2"/>
<rect x="369" y="479" width="2" height="2"/>
<rect x="373" y="477" width="2" height="2"/>
<rect x="368" y="475" width="2" height="2"/>
<rect x="372" y="477" width="2" height="2"/>
<rect x="371" y="480" width="2" height="2"/>
<rect x="368" y="472" width="2" height="2"/>
<rect x="370" y="469" width="2" height="2"/>
<rect x="370" y="475" width="2" height="2"/>
<rect x="373" y="477" width="2" height="2"/>
<rect x="373" y="469" width="2" height="2"/>
<rect x="368" y="480" width="2" height="2"/>
<rect x="366" y="475" width="2" height="2"/>
<rect x="373" y="475" width="2" height="2"/>
<rect x="368" y="479" width="2" height="2"/>
<rect x="370" y="475" width="2" height="2"/>
<rect x="370" y="474" width="2" height="2"/>
<rect x="373" y="478" width="2" height="2"/>
<rect x="364" y="474" width="2" height="2"/>
<rect x="374" y="471" width="2" height="2"/>
<rect x="371" y="478" width="2" height="2"/>
<rect x="367" y="471" width="2" height="2"/>
<rect x="371" y="472" width="2" height="2"/>
<rect x="367" y="471" width="2" height="2"/>
<rect x="369" y="470" width="2" height="2"/>
<rect x="369" y="473" width="2" height="2"/>
<rect x="368" y="471" width="2" height="2"/>
<rect x="369" y="472" width="2" height="2"/>
<rect x="367" y="473" width="2" height="2"/>
<rect x="374" y="471" width="2" height="2"/>
<rect x="371" y="479" width="2" height="2"/>
<rect x="367" y="473" width="2" height="2"/>
<rect x="369" y="471" width="2" height="2"/>
<rect x="375" y="476" width="2" height="2"/>
<rect x="369" y="468" width="2" height="2"/>
<rect x="372" y="470" width="2" height="2"/>
<rect x="365" y="473" width="2" height="2"/>
<rect x="374" y="472" width="2" height="2"/>
<rect x="366" y="477" width="2" height="2"/>
<rect x="370" y="479" width="2" height="2"/>
<rect x="367" y="469" width="2" height="2"/>
<rect x="374" y="474" width="2" height="2"/>
<rect x="368" y="476" width="2" height="2"/>
<rect x="375" y="474" width="2" height="2"/>
<rect x="369" y="481" width="2" height="2"/>
<rect x="374" y="472" width="2" height="2"/>
<rect x="374" y="475" width="2" height="2"/>
<rect x="369" y="480" width="2" height="2"/>
<rect x="369" y="471" width="2" height="2"/>
<rect x="371" y="469" width="2" height="2"/>
<rect x="368" y="477" width="2" height="2"/>
<rect x="368" y="474" width="2" height="2"/>
<rect x="371" y="474" width="2" height="2"/>
<rect x="371" y="471" width="2" height="2"/>
<rect x="369" y="478" width="2" height="2"/>
<rect x="365" y="480" width="2" height="2"/>
<rect x="368" y="479" width="2" height="2"/>
<rect x="374" y="473" width="2" height="2"/>
<rect x="369" y="469" width="2" height="2"/>
<rect x="366" y="470" width="2" height="2"/>
<rect x="373" y="477" width="2" height="2"/>
<rect x="365" y="477" width="2" height="2"/>
<rect x="372" y="473" width="2" height="2"/>
<rect x="374" y="478" width="2" height="2"/>
<rect x="368" y="477" width="2" height="2"/>
<rect x="374" y="474" width="2" height="2"/>
<rect x="369" y="475" width="2" height="2"/>
<rect x="369" y="472" width="2" height="2"/>
<rect x="373" y="476" width="2" height="2"/>
<rect x="371" y="472" width="2" height="2"/>
<rect x="368" y="471" width="2" height="2"/>
<rect x="376" y="478" width="2" height="2"/>
<rect x="371" y="473" width="2" height="2"/>
<rect x="372" y="478" width="2" height="2"/>
<rect x="368" y="474" width="2" height="2"/>
<rect x="370" y="470" width="2" height="2"/>
<rect x="370" y="469" width="2" height="2"/>
<rect x="370" y="470" width="2" height="2"/>
<rect x="368" y="474" width="2" height="2"/>
<rect x="368" y="471" width="2" height="2"/>
<rect x="365" y="472" width="2" height="2"/>
<rect x="373" y="470" width="2" height="2"/>
<rect x="372" y="477" width="2" height="2"/>
<rect x="368" y="474" width="2" height="2"/>
<rect x="367" y="478" width="2" height="2"/>
<rect x="364" y="471" width="2" height="2"/>
<rect x="372" y="472" width="2" height="2"/>
<rect x="365" y="476" width="2" height="2"/>
<rect x="370" y="460" width="2" height="2"/>
<rect x="377" y="468" width="2" height="2"/>
<rect x="374" y="482" width="2" height="2"/>
<rect x="380" y="458" width="2" height="2"/>
<rect x="380" y="450" width="2" height="2"/>
<rect x="378" y="448" width="2" height="2"/>
<rect x="378" y="452" width="2" height="2"/>
<rect x="378" y="453" width="2" height="2"/>
<rect x="378" y="455" width="2" height="2"/>
<rect x="379" y="451" width="2" height="2"/>
<rect x="379" y="452" width="2" height="2"/>
<rect x="377" y="457" width="2" height="2"/>
<rect x="380" y="458" width="2" height="2"/>
<rect x="378" y="451" width="2" height="2"/>
<rect x="379" y="450" width="2" height="2"/>
<rect x="380" y="455" width="2" height="2"/>
<rect x="379" y="449" width="2" height="2"/>
<rect x="378" y="453" width="2" height="2"/>
<rect x="380" y="450" width="2" height="2"/>
<rect x="379" y="449" width="2" height="2"/>
<rect x="380" y="456" width="2" height="2"/>
<rect x="380" y="456" width="2" height="2"/>
<rect x="378" y="451" width="2" height="2"/>
<rect x="378" y="454" width="2" height="2"/>
<rect x="378" y="450" width="2" height="2"/>
<rect x="378" y="458" width="2" height="2"/>
<rect x="380" y="451" width="2" height="2"/>
<rect x="380" y="450" width="2" height="2"/>
<rect x="358" y="504" width="2" height="2"/>
<rect x="380" y="510" width="2" height="2"/>
<rect x="364" y="525" width="2" height="2"/>
<rect x="363" y="543" width="2" height="2"/>
<rect x="375" y="550" width="2" height="2"/>
<rect x="380" y="553" width="2" height="2"/>
<rect x="383" y="540" width="2" height="2"/>
<rect x="382" y="538" width="2" height="2"/>
<rect x="382" y="537" width="2" height="2"/>
<rect x="382" y="537" width="2" height="2"/>
<rect x="382" y="539" width="2" height="2"/>
<rect x="382" y="537" width="2" height="2"/>
<rect x="382" y="538" width="2" height="2"/>
<rect x="382" y="540" width="2" height="2"/>
<rect x="383" y="537" width="2" height="2"/>
<rect x="383" y="541" width="2" height="2"/>
<rect x="383" y="539" width="2" height="2"/>
<rect x="382" y="542" width="2" height="2"/>
<rect x="382" y="536" width="2" height="2"/>
<rect x="382" y="540" width="2" height="2"/>
<rect x="381" y="537" width="2" height="2"/>
<rect x="384" y="539" width="2" height="2"/>
<rect x="383" y="538" width="2" height="2"/>
<rect x="381" y="539" width="2" height="2"/>
<rect x="383" y="538" width="2" height="2"/>
<rect x="380" y="539" width="2" height="2"/>
<rect x="418" y="426" width="2" height="2"/>
<rect x="418" y="431" width="2" height="2"/>
<rect x="418" y="435" width="2" height="2"/>
<rect x="418" y="437" width="2" height="2"/>
<rect x="418" y="439" width="2" height="2"/>
<rect x="418" y="443" width="2" height="2"/>
<rect x="418" y="448" width="2" height="2"/>
<rect x="418" y="451" width="2" height="2"/>
<rect x="418" y="455" width="2" height="2"/>
<rect x="419" y="460" width="2" height="2"/>
<rect x="418" y="446" width="2" height="2"/>
<rect x="418" y="450" width="2" height="2"/>
<rect x="423" y="481" width="2" height="2"/>
<rect x="424" y="489" width="2" height="2"/>
<rect x="423" y="470" width="2" height="2"/>
<rect x="428" y="486" width="2" height="2"/>
<rect x="425" y="485" width="2" height="2"/>
<rect x="425" y="476" width="2" height="2"/>
<rect x="420" y="487" width="2" height="2"/>
<rect x="423" y="479" width="2" height="2"/>
<rect x="422" y="477" width="2" height="2"/>
<rect x="424" y="470" width="2" height="2"/>
<rect x="419" y="481" width="2" height="2"/>
<rect x="431" y="488" width="2" height="2"/>
<rect x="423" y="481" width="2" height="2"/>
<rect x="424" y="479" width="2" height="2"/>
<rect x="430" y="489" width="2" height="2"/>
<rect x="426" y="487" width="2" height="2"/>
<rect x="422" y="468" width="2" height="2"/>
<rect x="423" y="486" width="2" height="2"/>
<rect x="427" y="482" width="2" height="2"/>
<rect x="424" y="490" width="2" height="2"/>
<rect x="428" y="489" width="2" height="2"/>
<rect x="422" y="483" width="2" height="2"/>
<rect x="423" y="484" width="2" height="2"/>
<rect x="425" y="477" width="2" height="2"/>
<rect x="429" y="479" width="2" height="2"/>
<rect x="421" y="486" width="2" height="2"/>
<rect x="429" y="486" width="2" height="2"/>
<rect x="421" y="480" width="2" height="2"/>
<rect x="423" y="490" width="2" height="2"/>
<rect x="428" y="483" width="2" height="2"/>
<rect x="426" y="479" width="2" height="2"/>
<rect x="429" y="476" width="2" height="2"/>
<rect x="429" y="478" width="2" height="2"/>
<rect x="426" y="471" width="2" height="2"/>
<rect x="427" y="485" width="2" height="2"/>
<rect x="428" y="490" width="2" height="2"/>
<rect x="427" y="469" width="2" height="2"/>
<rect x="422" y="486" width="2" height="2"/>
<rect x="426" y="486" width="2" height="2"/>
<rect x="430" y="473" width="2" height="2"/>
<rect x="425" y="474" width="2" height="2"/>
<rect x="425" y="493" width="2" height="2"/>
<rect x="421" y="488" width="2" height="2"/>
<rect x="431" y="481" width="2" height="2"/>
<rect x="422" y="482" width="2" height="2"/>
<rect x="422" y="482" width="2" height="2"/>
<rect x="425" y="473" width="2" height="2"/>
<rect x="428" y="483" width="2" height="2"/>
<rect x="429" y="488" width="2" height="2"/>
<rect x="424" y="486" width="2" height="2"/>
<rect x="429" y="482" width="2" height="2"/>
<rect x="424" y="483" width="2" height="2"/>
<rect x="422" y="494" width="2" height="2"/>
<rect x="426" y="471" width="2" height="2"/>
<rect x="426" y="478" width="2" height="2"/>
<rect x="424" y="481" width="2" height="2"/>
<rect x="424" y="488" width="2" height="2"/>
<rect x="423" y="481" width="2" height="2"/>
<rect x="427" y="490" width="2" height="2"/>
<rect x="424" y="495" width="2" height="2"/>
<rect x="427" y="484" width="2" height="2"/>
<rect x="431" y="486" width="2" height="2"/>
<rect x="425" y="479" width="2" height="2"/>
<rect x="427" y="485" width="2" height="2"/>
<rect x="429" y="487" width="2" height="2"/>
<rect x="428" y="472" width="2" height="2"/>
<rect x="427" y="489" width="2" height="2"/>
<rect x="422" y="475" width="2" height="2"/>
<rect x="424" y="491" width="2" height="2"/>
<rect x="423" y="481" width="2" height="2"/>
<rect x="429" y="472" width="2" height="2"/>
<rect x="421" y="473" width="2" height="2"/>
<rect x="431" y="490" width="2" height="2"/>
<rect x="430" y="477" width="2" height="2"/>
<rect x="425" y="472" width="2" height="2"/>
<rect x="426" y="474" width="2" height="2"/>
<rect x="426" y="487" width="2" height="2"/>
<rect x="424" y="470" width="2" height="2"/>
<rect x="423" y="483" width="2" height="2"/>
<rect x="424" y="492" width="2" height="2"/>
<rect x="422" y="474" width="2" height="2"/>
<rect x="425" y="472" width="2" height="2"/>
<rect x="428" y="491" width="2" height="2"/>
<rect x="422" y="488" width="2" height="2"/>
<rect x="429" y="484" width="2" height="2"/>
<rect x="422" y="489" width="2" height="2"/>
<rect x="428" y="483" width="2" height="2"/>
<rect x="427" y="482" width="2" height="2"/>
<rect x="426" y="478" width="2" height="2"/>
<rect x="419" y="477" width="2" height="2"/>
<rect x="425" y="471" width="2" height="2"/>
<rect x="424" y="490" width="2" height="2"/>
<rect x="424" y="473" width="2" height="2"/>
<rect x="427" y="484" width="2" height="2"/>
<rect x="423" y="489" width="2" height="2"/>
<rect x="422" y="471" width="2" height="2"/>
<rect x="420" y="484" width="2" height="2"/>
<rect x="424" y="490" width="2" height="2"/>
<rect x="421" y="481" width="2" height="2"/>
<rect x="423" y="463" width="2" height="2"/>
<rect x="428" y="464" width="2" height="2"/>
<rect x="420" y="470" width="2" height="2"/>
<rect x="430" y="469" width="2" height="2"/>
<rect x="425" y="470" width="2" height="2"/>
<rect x="422" y="496" width="2" height="2"/>
<rect x="424" y="494" width="2" height="2"/>
<rect x="418" y="518" width="2" height="2"/>
<rect x="461" y="500" width="2" height="2"/>
<rect x="461" y="513" width="2" height="2"/>
<rect x="461" y="519" width="2" height="2"/>
<rect x="461" y="524" width="2" height="2"/>
<rect x="461" y="529" width="2" height="2"/>
<rect x="462" y="535" width="2" height="2"/>
<rect x="462" y="538" width="2" height="2"/>
<rect x="460" y="544" width="2" height="2"/>
<rect x="460" y="542" width="2" height="2"/>
<rect x="461" y="543" width="2" height="2"/>
<rect x="460" y="544" width="2" height="2"/>
<rect x="461" y="544" width="2" height="2"/>
<rect x="460" y="544" width="2" height="2"/>
<rect x="460" y="542" width="2" height="2"/>
<rect x="461" y="542" width="2" height="2"/>
<rect x="462" y="544" width="2" height="2"/>
<rect x="459" y="543" width="2" height="2"/>
<rect x="461" y="543" width="2" height="2"/>
<rect x="461" y="542" width="2" height="2"/>
<rect x="461" y="554" width="2" height="2"/>
<rect x="461" y="553" width="2" height="2"/>
<rect x="460" y="555" width="2" height="2"/>
<rect x="460" y="555" width="2" height="2"/>
<rect x="460" y="553" width="2" height="2"/>
<rect x="461" y="555" width="2" height="2"/>
<rect x="461" y="554" width="2" height="2"/>
<rect x="460" y="556" width="2" height="2"/>
<rect x="459" y="557" width="2" height="2"/>
<rect x="461" y="554" width="2" height="2"/>
<rect x="461" y="555" width="2" height="2"/>
<rect x="460" y="555" width="2" height="2"/>
<rect x="460" y="552" width="2" height="2"/>
<rect x="700" y="488" width="2" height="2"/>
<rect x="701" y="489" width="2" height="2"/>
<rect x="701" y="489" width="2" height="2"/>
<rect x="699" y="489" width="2" height="2"/>
<rect x="699" y="489" width="2" height="2"/>
<rect x="701" y="489" width="2" height="2"/>
<rect x="701" y="486" width="2" height="2"/>
<rect x="700" y="489" width="2" height="2"/>
<rect x="701" y="487" width="2" height="2"/>
<rect x="700" y="488" width="2" height="2"/>
<rect x="700" y="488" width="2" height="2"/>
<rect x="700" y="486" width="2" height="2"/>
<rect x="700" y="488" width="2" height="2"/>
<rect x="700" y="487" width="2" height="2"/>
<rect x="700" y="524" width="2" height="2"/>
<rect x="700" y="526" width="2" height="2"/>
<rect x="743" y="496" width="2" height="2"/>
<rect x="746" y="490" width="2" height="2"/>
<rect x="743" y="493" width="2" height="2"/>
<rect x="743" y="496" width="2" height="2"/>
<rect x="747" y="491" width="2" height="2"/>
<rect x="746" y="488" width="2" height="2"/>
<rect x="741" y="494" width="2" height="2"/>
<rect x="748" y="490" width="2" height="2"/>
<rect x="744" y="485" width="2" height="2"/>
<rect x="749" y="487" width="2" height="2"/>
<rect x="743" y="490" width="2" height="2"/>
<rect x="747" y="491" width="2" height="2"/>
<rect x="744" y="491" width="2" height="2"/>
<rect x="746" y="491" width="2" height="2"/>
<rect x="745" y="491" width="2" height="2"/>
<rect x="742" y="496" width="2" height="2"/>
<rect x="743" y="486" width="2" height="2"/>
<rect x="744" y="491" width="2" height="2"/>
<rect x="746" y="486" width="2" height="2"/>
<rect x="742" y="492" width="2" height="2"/>
<rect x="745" y="487" width="2" height="2"/>
<rect x="742" y="492" width="2" height="2"/>
<rect x="744" y="485" width="2" height="2"/>
<rect x="743" y="496" width="2" height="2"/>
<rect x="742" y="495" width="2" height="2"/>
<rect x="742" y="496" width="2" height="2"/>
<rect x="748" y="489" width="2" height="2"/>
<rect x="743" y="493" width="2" height="2"/>
<rect x="742" y="493" width="2" height="2"/>
<rect x="747" y="492" width="2" height="2"/>
<rect x="745" y="490" width="2" height="2"/>
<rect x="746" y="488" width="2" height="2"/>
<rect x="748" y="491" width="2" height="2"/>
<rect x="744" y="485" width="2" height="2"/>
<rect x="744" y="492" width="2" height="2"/>
<rect x="747" y="485" width="2" height="2"/>
<rect x="744" y="489" width="2" height="2"/>
<rect x="742" y="491" width="2" height="2"/>
<rect x="743" y="494" width="2" height="2"/>
<rect x="741" y="484" width="2" height="2"/>
<rect x="745" y="490" width="2" height="2"/>
<rect x="745" y="488" width="2" height="2"/>
<rect x="742" y="488" width="2" height="2"/>
<rect x="744" y="488" width="2" height="2"/>
<rect x="744" y="488" width="2" height="2"/>
<rect x="745" y="487" width="2" height="2"/>
<rect x="744" y="491" width="2" height="2"/>
<rect x="746" y="488" width="2" height="2"/>
<rect x="742" y="486" width="2" height="2"/>
<rect x="746" y="489" width="2" height="2"/>
<rect x="746" y="491" width="2" height="2"/>
<rect x="744" y="469" width="2" height="2"/>
<rect x="741" y="538" width="2" height="2"/>
<rect x="742" y="504" width="2" height="2"/>
<rect x="745" y="502" width="2" height="2"/>
<rect x="747" y="503" width="2" height="2"/>
<rect x="741" y="502" width="2" height="2"/>
<rect x="748" y="498" width="2" height="2"/>
<rect x="796" y="490" width="2" height="2"/>
<rect x="798" y="502" width="2" height="2"/>
<rect x="796" y="505" width="2" height="2"/>
<rect x="795" y="544" width="2" height="2"/>
<rect x="798" y="556" width="2" height="2"/>
<rect x="797" y="508" width="2" height="2"/>
<rect x="797" y="498" width="2" height="2"/>
<rect x="796" y="496" width="2" height="2"/>
<rect x="796" y="495" width="2" height="2"/>
<rect x="797" y="499" width="2" height="2"/>
<rect x="796" y="499" width="2" height="2"/>
<rect x="797" y="497" width="2" height="2"/>
<rect x="797" y="495" width="2" height="2"/>
<rect x="795" y="540" width="2" height="2"/>
<rect x="795" y="540" width="2" height="2"/>
<rect x="796" y="536" width="2" height="2"/>
<rect x="794" y="539" width="2" height="2"/>
<rect x="795" y="539" width="2" height="2"/>
<rect x="795" y="540" width="2" height="2"/>
<rect x="795" y="541" width="2" height="2"/>
<rect x="795" y="540" width="2" height="2"/>
<rect x="795" y="537" width="2" height="2"/>
<rect x="795" y="536" width="2" height="2"/>
<rect x="795" y="539" width="2" height="2"/>
<rect x="796" y="537" width="2" height="2"/>
<rect x="794" y="537" width="2" height="2"/>
<rect x="795" y="537" width="2" height="2"/>
<rect x="813" y="480" width="2" height="2"/>
<rect x="810" y="487" width="2" height="2"/>
<rect x="811" y="483" width="2" height="2"/>
<rect x="811" y="481" width="2" height="2"/>
<rect x="811" y="488" width="2" height="2"/>
<rect x="811" y="483" width="2" height="2"/>
<rect x="810" y="486" width="2" height="2"/>
<rect x="811" y="484" width="2" height="2"/>
<rect x="809" y="487" width="2" height="2"/>
<rect x="811" y="487" width="2" height="2"/>
<rect x="811" y="486" width="2" height="2"/>
<rect x="810" y="486" width="2" height="2"/>
<rect x="809" y="488" width="2" height="2"/>
<rect x="812" y="479" width="2" height="2"/>
<rect x="810" y="483" width="2" height="2"/>
<rect x="810" y="484" width="2" height="2"/>
<rect x="810" y="486" width="2" height="2"/>
<rect x="812" y="480" width="2" height="2"/>
<rect x="811" y="485" width="2" height="2"/>
<rect x="812" y="482" width="2" height="2"/>
<rect x="810" y="485" width="2" height="2"/>
<rect x="810" y="487" width="2" height="2"/>
<rect x="811" y="482" width="2" height="2"/>
<rect x="810" y="486" width="2" height="2"/>
<rect x="813" y="479" width="2" height="2"/>
<rect x="810" y="484" width="2" height="2"/>
<rect x="811" y="484" width="2" height="2"/>
<rect x="811" y="486" width="2" height="2"/>
<rect x="810" y="485" width="2" height="2"/>
<rect x="810" y="482" width="2" height="2"/>
<rect x="811" y="481" width="2" height="2"/>
<rect x="810" y="485" width="2" height="2"/>
<rect x="812" y="479" width="2" height="2"/>
<rect x="812" y="485" width="2" height="2"/>
<rect x="812" y="482" width="2" height="2"/>
<rect x="810" y="482" width="2" height="2"/>
<rect x="813" y="500" width="2" height="2"/>
<rect x="809" y="531" width="2" height="2"/>
<rect x="844" y="487" width="2" height="2"/>
<rect x="842" y="488" width="2" height="2"/>
<rect x="841" y="490" width="2" height="2"/>
<rect x="842" y="485" width="2" height="2"/>
<rect x="843" y="491" width="2" height="2"/>
<rect x="842" y="488" width="2" height="2"/>
<rect x="845" y="489" width="2" height="2"/>
<rect x="842" y="489" width="2" height="2"/>
<rect x="844" y="486" width="2" height="2"/>
<rect x="843" y="485" width="2" height="2"/>
<rect x="841" y="485" width="2" height="2"/>
<rect x="844" y="489" width="2" height="2"/>
<rect x="844" y="491" width="2" height="2"/>
<rect x="843" y="489" width="2" height="2"/>
<rect x="843" y="490" width="2" height="2"/>
<rect x="842" y="488" width="2" height="2"/>
<rect x="843" y="489" width="2" height="2"/>
<rect x="842" y="488" width="2" height="2"/>
<rect x="843" y="489" width="2" height="2"/>
<rect x="844" y="490" width="2" height="2"/>
<rect x="844" y="491" width="2" height="2"/>
<rect x="844" y="492" width="2" height="2"/>
<rect x="844" y="487" width="2" height="2"/>
<rect x="845" y="491" width="2" height="2"/>
<rect x="844" y="490" width="2" height="2"/>
<rect x="843" y="486" width="2" height="2"/>
<rect x="843" y="488" width="2" height="2"/>
<rect x="845" y="486" width="2" height="2"/>
<rect x="845" y="496" width="2" height="2"/>
<rect x="846" y="494" width="2" height="2"/>
<rect x="846" y="496" width="2" height="2"/>
<rect x="846" y="496" width="2" height="2"/>
<rect x="846" y="495" width="2" height="2"/>
<rect x="845" y="499" width="2" height="2"/>
<rect x="846" y="494" width="2" height="2"/>
<rect x="846" y="497" width="2" height="2"/>
<rect x="846" y="496" width="2" height="2"/>
<rect x="846" y="495" width="2" height="2"/>
<rect x="845" y="513" width="2" height="2"/>
<rect x="842" y="542" width="2" height="2"/>
<rect x="847" y="551" width="2" height="2"/>
<rect x="845" y="553" width="2" height="2"/>
<rect x="842" y="485" width="2" height="2"/>
</g>
<line x1="125.5" y1="489.2" x2="900.5" y2="498.9" stroke="#00ff00" stroke-width="1.4"/>
<path d="M138.5 562.5v-5.5M138.5 404.5v5.5M251.5 562.5v-5.5M251.5 404.5v5.5M365.5 562.5v-5.5M365.5 404.5v5.5M478.5 562.5v-5.5M478.5 404.5v5.5M592.5 562.5v-5.5M592.5 404.5v5.5M706.5 562.5v-5.5M706.5 404.5v5.5M819.5 562.5v-5.5M819.5 404.5v5.5M125.5 562.5h5.5M900.5 562.5h-5.5M125.5 538.5h5.5M900.5 538.5h-5.5M125.5 513.5h5.5M900.5 513.5h-5.5M125.5 489.5h5.5M900.5 489.5h-5.5M125.5 465.5h5.5M900.5 465.5h-5.5M125.5 441.5h5.5M900.5 441.5h-5.5M125.5 417.5h5.5M900.5 417.5h-5.5" stroke="#000" stroke-width="0.69" fill="none"/>
<rect x="125.5" y="404.5" width="775.0" height="158.0" fill="none" stroke="#000" stroke-width="1.39"/>
<text x="120.7" y="566.7" font-size="12" text-anchor="end">0</text>
<text x="120.7" y="542.7" font-size="12" text-anchor="end">2</text>
<text x="120.7" y="517.7" font-size="12" text-anchor="end">4</text>
<text x="120.7" y="493.7" font-size="12" text-anchor="end">6</text>
<text x="120.7" y="469.7" font-size="12" text-anchor="end">8</text>
<text x="120.2" y="445.7" font-size="12" text-anchor="end">10</text>
<text x="120.2" y="421.7" font-size="12" text-anchor="end">12</text>
<text transform="translate(97.3,483.5) rotate(-90)" font-size="11" text-anchor="middle">cnts/s</text>
<rect x="131.5" y="410.5" width="175.0" height="23.0" fill="#fff" stroke="#808080" stroke-width="1.39"/>
<g fill="#ff0000" fill-opacity="0.5"><rect x="139.0" y="420.0" width="2" height="2"/><rect x="157.0" y="420.0" width="2" height="2"/></g>
<text x="171.0" y="425.8" font-size="12.5">CCD7 Slope: -0.0237</text>
</g>
<text x="138.5" y="576.3" font-size="12" text-anchor="middle">345</text>
<text x="251.5" y="576.3" font-size="12" text-anchor="middle">350</text>
<text x="365.5" y="576.3" font-size="12" text-anchor="middle">355</text>
<text x="478.5" y="576.3" font-size="12" text-anchor="middle">360</text>
<text x="592.5" y="576.3" font-size="12" text-anchor="middle">365</text>
<text x="706.5" y="576.3" font-size="12" text-anchor="middle">370</text>
<text x="819.5" y="576.3" font-size="12" text-anchor="middle">375</text>
<text x="513.5" y="592.6" font-size="12.5" text-anchor="middle">Time (DOM)</text>
</svg></body></html>
